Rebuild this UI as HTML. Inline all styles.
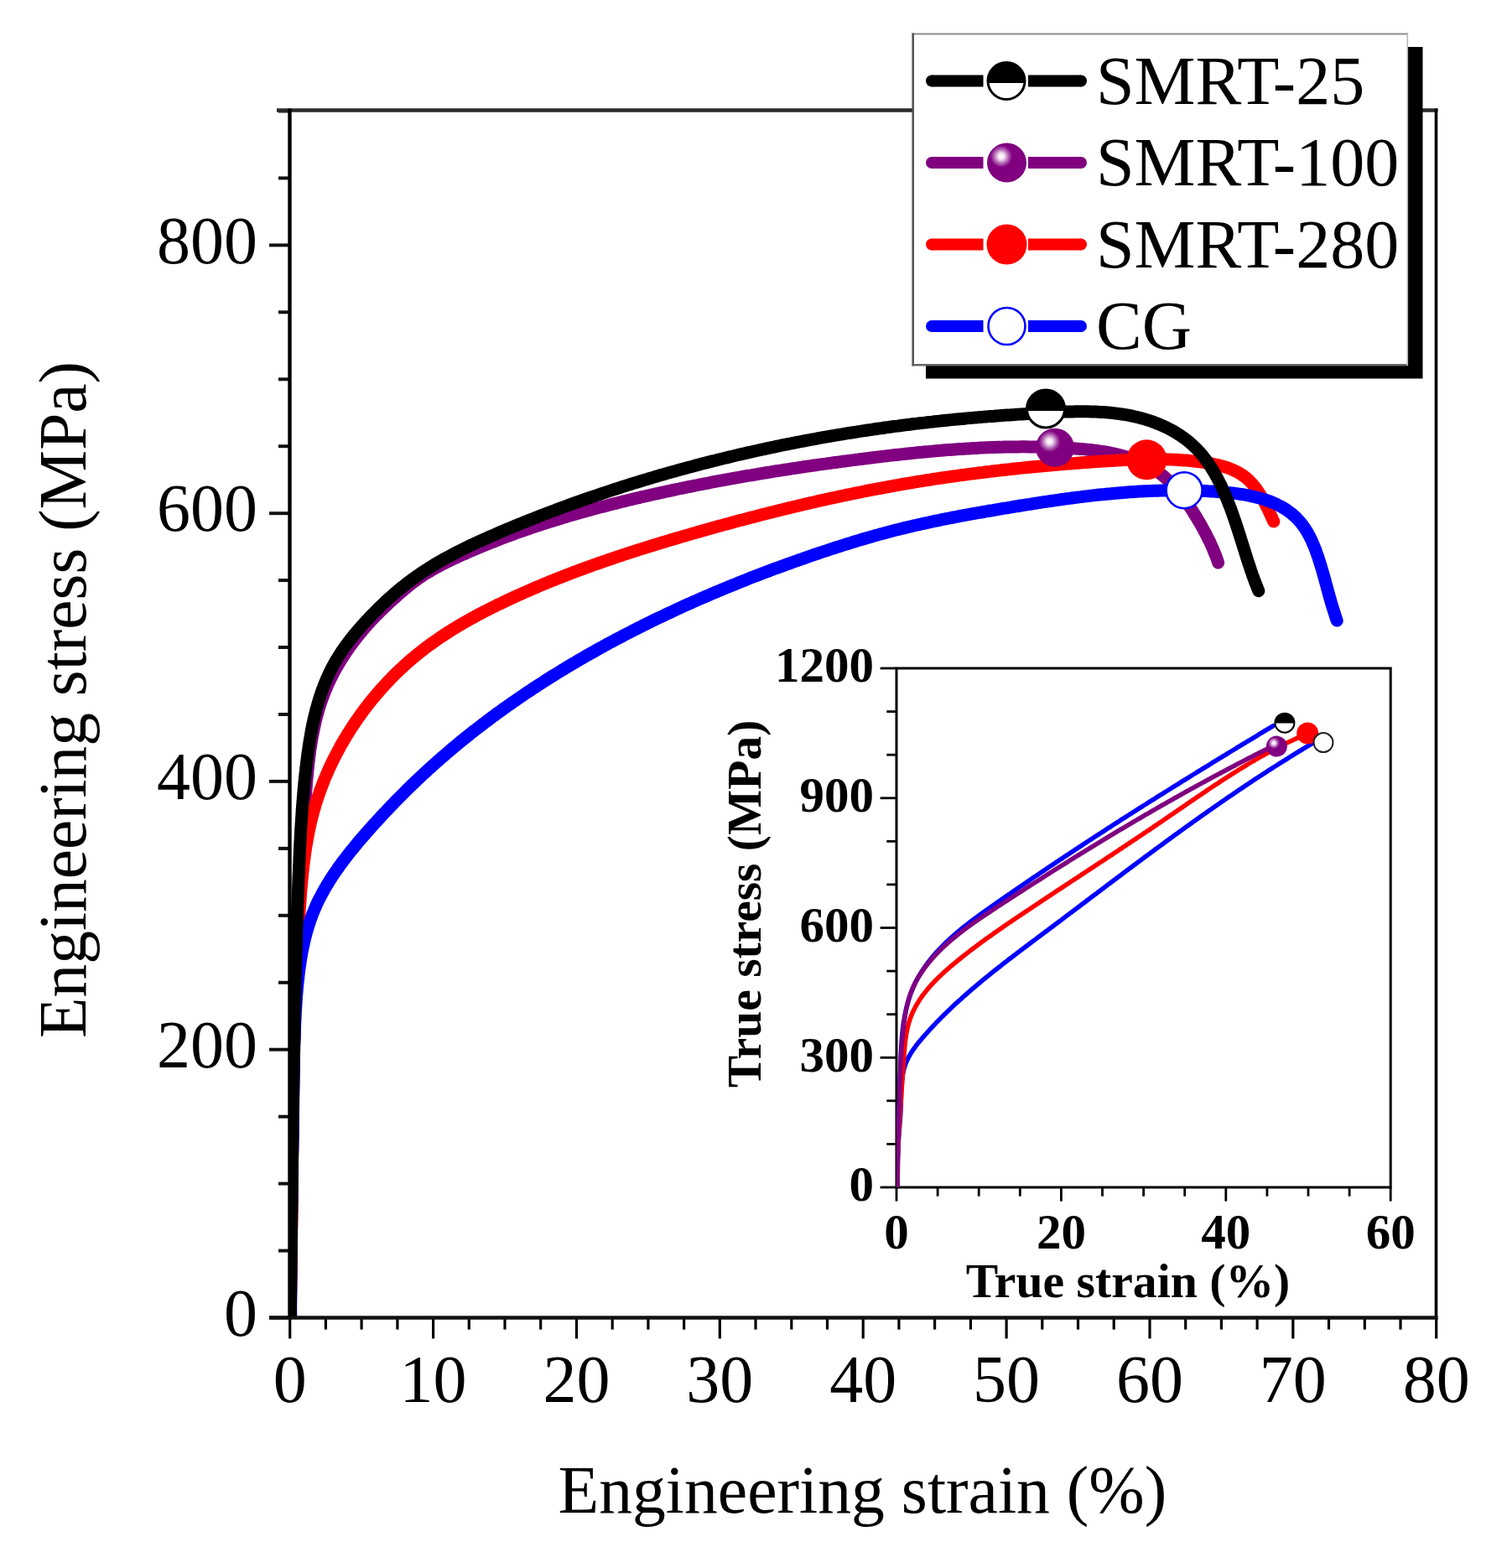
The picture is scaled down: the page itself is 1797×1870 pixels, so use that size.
<!DOCTYPE html><html><head><meta charset="utf-8"><title>Engineering stress-strain curves</title>
<style>html,body{margin:0;padding:0;background:#fff;}svg{display:block;}text{font-family:"Liberation Serif",serif;}</style></head><body>
<svg width="1797" height="1870" viewBox="0 0 1797 1870">
<rect x="0" y="0" width="1797" height="1870" fill="#fff"/>
<defs><radialGradient id="sph" cx="0.36" cy="0.34" r="0.62"><stop offset="0" stop-color="#fff"/><stop offset="0.12" stop-color="#f4e4f4"/><stop offset="0.30" stop-color="#b060b0"/><stop offset="0.45" stop-color="#800080"/><stop offset="1" stop-color="#800080"/></radialGradient></defs>
<text x="307" y="1592.7" font-size="80" text-anchor="end">0</text>
<text x="307" y="1272.9" font-size="80" text-anchor="end">200</text>
<text x="307" y="953.1" font-size="80" text-anchor="end">400</text>
<text x="307" y="633.4" font-size="80" text-anchor="end">600</text>
<text x="307" y="313.6" font-size="80" text-anchor="end">800</text>
<text x="345.7" y="1671.5" font-size="80" text-anchor="middle">0</text>
<text x="516.6" y="1671.5" font-size="80" text-anchor="middle">10</text>
<text x="687.5" y="1671.5" font-size="80" text-anchor="middle">20</text>
<text x="858.3" y="1671.5" font-size="80" text-anchor="middle">30</text>
<text x="1029.2" y="1671.5" font-size="80" text-anchor="middle">40</text>
<text x="1200.1" y="1671.5" font-size="80" text-anchor="middle">50</text>
<text x="1371.0" y="1671.5" font-size="80" text-anchor="middle">60</text>
<text x="1541.8" y="1671.5" font-size="80" text-anchor="middle">70</text>
<text x="1712.7" y="1671.5" font-size="80" text-anchor="middle">80</text>
<text x="1028.4" y="1803.8" font-size="79.7" text-anchor="middle">Engineering strain (%)</text>
<text transform="translate(102,834.5) rotate(-90)" x="0" y="0" font-size="79.4" text-anchor="middle">Engineering stress (MPa)</text>
<clipPath id="plotclip"><rect x="345.5" y="120" width="1372" height="1451.5"/></clipPath>
<g clip-path="url(#plotclip)">
<path d="M346.3,1570.8L346.3,1568.0 346.4,1565.2 346.4,1562.4 346.4,1559.6 346.5,1556.8 346.5,1554.0 346.6,1551.2 346.6,1548.4 346.6,1545.6 346.7,1542.7 346.7,1539.9 346.7,1537.1 346.8,1534.3 346.8,1531.5 346.8,1528.7 346.9,1525.9 346.9,1523.1 346.9,1520.3 347.0,1517.5 347.0,1514.6 347.0,1511.8 347.1,1509.0 347.1,1506.2 347.1,1503.4 347.1,1500.6 347.2,1497.8 347.2,1494.9 347.2,1492.1 347.3,1489.3 347.3,1486.5 347.3,1483.7 347.4,1480.9 347.4,1478.1 347.4,1475.2 347.5,1472.4 347.5,1469.6 347.5,1466.8 347.5,1464.0 347.6,1461.2 347.6,1458.3 347.6,1455.5 347.7,1452.7 347.7,1449.9 347.7,1447.1 347.8,1444.2 347.8,1441.4 347.8,1438.6 347.8,1435.8 347.9,1433.0 347.9,1430.1 347.9,1427.3 348.0,1424.5 348.0,1421.7 348.0,1418.9 348.1,1416.0 348.1,1413.2 348.1,1410.4 348.2,1407.6 348.2,1404.8 348.2,1401.9 348.3,1399.1 348.3,1396.3 348.3,1393.5 348.4,1390.7 348.4,1387.8 348.4,1385.0 348.5,1382.2 348.5,1379.4 348.5,1376.6 348.6,1373.7 348.6,1370.9 348.7,1368.1 348.7,1365.3 348.7,1362.4 348.8,1359.6 348.8,1356.8 348.8,1354.0 348.9,1351.2 348.9,1348.3 349.0,1345.5 349.0,1342.7 349.0,1339.9 349.1,1337.0 349.1,1334.2 349.2,1331.4 349.2,1328.6 349.3,1325.8 349.3,1322.9 349.3,1320.1 349.4,1317.3 349.4,1314.5 349.5,1311.6 349.5,1308.8 349.6,1306.0 349.6,1303.2 349.7,1300.4 349.7,1297.5 349.8,1294.7 349.8,1291.9 349.9,1289.1 349.9,1286.2 350.0,1283.4 350.0,1280.6 350.1,1277.8 350.2,1275.0 350.2,1272.1 350.3,1269.3 350.3,1266.5 350.4,1263.7 350.4,1260.9 350.5,1258.0 350.6,1255.2 350.6,1252.4 350.7,1249.6 350.7,1246.8 350.8,1243.9 350.9,1241.1 350.9,1238.3 351.0,1235.5 351.1,1232.7 351.1,1229.8 351.2,1227.0 351.3,1224.2 351.4,1221.4 351.4,1218.6 351.5,1215.7 351.6,1212.9 351.7,1210.1 351.7,1207.3 351.8,1204.5 351.9,1201.6 352.0,1198.8 352.0,1196.0 352.1,1193.2 352.2,1190.4 352.3,1187.6 352.4,1184.7 352.5,1181.9 352.5,1179.1 352.6,1176.3 352.7,1173.5 352.8,1170.7 352.9,1167.8 353.0,1165.0 353.1,1162.2 353.2,1159.4 353.3,1156.6 353.4,1153.8 353.5,1151.0 353.6,1148.1 353.7,1145.3 353.8,1142.5 353.9,1139.7 354.0,1136.9 354.1,1134.1 354.2,1131.3 354.3,1128.5 354.4,1125.6 354.5,1122.8 354.6,1120.0 354.7,1117.2 354.9,1114.4 355.0,1111.6 355.1,1108.8 355.2,1106.0 355.3,1103.2 355.5,1100.4 355.6,1097.5 355.7,1094.7 355.8,1091.9 356.0,1089.1 356.1,1086.3 356.2,1083.5 356.4,1080.7 356.5,1077.9 356.6,1075.1 356.8,1072.3 356.9,1069.5 357.0,1066.7 357.2,1063.9 357.3,1061.1 357.5,1058.3 357.6,1055.5 357.8,1052.7 357.9,1049.9 358.1,1047.1 358.2,1044.3 358.4,1041.5 358.5,1038.6 358.7,1035.8 358.8,1033.0 359.0,1030.2 359.1,1027.4 359.3,1024.6 359.5,1021.8 359.6,1019.0 359.8,1016.2 360.0,1013.4 360.2,1010.6 360.3,1007.8 360.5,1005.0 360.7,1002.2 360.9,999.3 361.0,996.5 361.2,993.7 361.4,990.9 361.6,988.1 361.8,985.3 362.0,982.4 362.2,979.6 362.4,976.8 362.6,974.0 362.8,971.1 363.0,968.3 363.2,965.5 363.4,962.7 363.6,959.8 363.8,957.0 364.0,954.2 364.2,951.3 364.4,948.5 364.6,945.6 364.8,942.8 365.1,940.0 365.3,937.1 365.5,934.3 365.8,931.4 366.0,928.6 366.3,925.7 366.6,922.9 366.8,920.1 367.1,917.2 367.4,914.4 367.7,911.6 368.0,908.7 368.4,905.9 368.7,903.1 369.1,900.3 369.4,897.5 369.8,894.6 370.2,891.8 370.7,889.0 371.1,886.3 371.6,883.5 372.0,880.7 372.5,877.9 373.1,875.1 373.6,872.4 374.2,869.6 374.7,866.9 375.4,864.1 376.0,861.4 376.6,858.7 377.3,856.0 378.0,853.3 378.8,850.6 379.5,847.9 380.3,845.2 381.1,842.6 382.0,839.9 382.8,837.3 383.8,834.7 384.7,832.0 385.7,829.4 386.7,826.8 387.7,824.3 388.8,821.7 389.8,819.1 391.0,816.6 392.1,814.1 393.3,811.6 394.5,809.1 395.8,806.6 397.0,804.1 398.3,801.6 399.6,799.2 401.0,796.7 402.4,794.3 403.8,791.9 405.2,789.5 406.7,787.1 408.1,784.8 409.6,782.4 411.2,780.1 412.7,777.7 414.3,775.4 415.9,773.1 417.5,770.8 419.2,768.6 420.9,766.3 422.6,764.0 424.3,761.8 426.0,759.6 427.8,757.4 429.6,755.2 431.4,753.0 433.2,750.9 435.1,748.7 436.9,746.6 438.8,744.5 440.7,742.4 442.6,740.3 444.6,738.2 446.5,736.2 448.5,734.1 450.5,732.1 452.5,730.1 454.6,728.1 456.6,726.1 458.7,724.1 460.7,722.2 462.8,720.2 464.9,718.3 467.0,716.4 469.1,714.5 471.3,712.6 473.4,710.7 475.5,708.8 477.6,706.9 479.8,705.1 481.9,703.2 484.1,701.4 486.3,699.6 488.5,697.8 490.7,696.1 492.9,694.4 495.2,692.7 497.4,691.0 499.7,689.4 502.0,687.9 504.4,686.3 506.7,684.8 509.1,683.3 511.5,681.9 513.9,680.5 516.3,679.1 518.8,677.7 521.2,676.3 523.7,675.0 526.1,673.7 528.6,672.4 531.1,671.2 533.6,669.9 536.2,668.7 538.7,667.5 541.2,666.3 543.8,665.1 546.3,664.0 548.9,662.8 551.4,661.6 554.0,660.5 556.5,659.4 559.1,658.2 561.7,657.1 564.3,656.0 566.8,654.9 569.4,653.8 572.0,652.7 574.6,651.7 577.2,650.6 579.8,649.5 582.4,648.5 585.0,647.4 587.6,646.4 590.2,645.4 592.9,644.3 595.5,643.3 598.1,642.3 600.7,641.3 603.4,640.3 606.0,639.3 608.6,638.4 611.3,637.4 613.9,636.4 616.5,635.5 619.2,634.5 621.9,633.6 624.5,632.7 627.2,631.7 629.8,630.8 632.5,629.9 635.2,629.0 637.8,628.1 640.5,627.2 643.2,626.3 645.8,625.5 648.5,624.6 651.2,623.7 653.9,622.9 656.6,622.0 659.3,621.2 662.0,620.3 664.7,619.5 667.4,618.7 670.1,617.9 672.8,617.0 675.5,616.2 678.2,615.4 680.9,614.6 683.6,613.9 686.3,613.1 689.0,612.3 691.7,611.5 694.4,610.8 697.2,610.0 699.9,609.2 702.6,608.5 705.3,607.7 708.0,607.0 710.8,606.3 713.5,605.5 716.2,604.8 719.0,604.1 721.7,603.4 724.4,602.7 727.2,602.0 729.9,601.3 732.7,600.6 735.4,599.9 738.1,599.2 740.9,598.5 743.6,597.9 746.4,597.2 749.1,596.5 751.9,595.9 754.6,595.2 757.4,594.6 760.1,593.9 762.9,593.3 765.6,592.6 768.4,592.0 771.1,591.4 773.9,590.7 776.6,590.1 779.4,589.5 782.1,588.9 784.9,588.3 787.7,587.7 790.4,587.1 793.2,586.5 795.9,585.9 798.7,585.3 801.5,584.7 804.2,584.1 807.0,583.5 809.7,583.0 812.5,582.4 815.3,581.8 818.0,581.2 820.8,580.7 823.6,580.1 826.3,579.6 829.1,579.0 831.8,578.5 834.6,577.9 837.4,577.4 840.1,576.8 842.9,576.3 845.7,575.8 848.4,575.2 851.2,574.7 854.0,574.2 856.8,573.7 859.5,573.2 862.3,572.7 865.1,572.1 867.8,571.6 870.6,571.1 873.4,570.6 876.1,570.1 878.9,569.6 881.7,569.2 884.5,568.7 887.2,568.2 890.0,567.7 892.8,567.2 895.6,566.8 898.3,566.3 901.1,565.8 903.9,565.4 906.7,564.9 909.5,564.4 912.2,564.0 915.0,563.5 917.8,563.1 920.6,562.6 923.3,562.2 926.1,561.7 928.9,561.3 931.7,560.9 934.5,560.4 937.3,560.0 940.0,559.6 942.8,559.1 945.6,558.7 948.4,558.3 951.2,557.9 954.0,557.5 956.7,557.0 959.5,556.6 962.3,556.2 965.1,555.8 967.9,555.4 970.7,555.0 973.5,554.6 976.2,554.2 979.0,553.8 981.8,553.4 984.6,553.1 987.4,552.7 990.2,552.3 993.0,551.9 995.8,551.5 998.6,551.2 1001.3,550.8 1004.1,550.4 1006.9,550.0 1009.7,549.7 1012.5,549.3 1015.3,548.9 1018.1,548.6 1020.9,548.2 1023.7,547.9 1026.5,547.5 1029.3,547.2 1032.1,546.8 1034.9,546.5 1037.7,546.1 1040.5,545.8 1043.3,545.4 1046.0,545.1 1048.8,544.8 1051.6,544.4 1054.4,544.1 1057.2,543.8 1060.0,543.4 1062.8,543.1 1065.6,542.8 1068.4,542.5 1071.2,542.2 1074.0,541.9 1076.8,541.6 1079.6,541.3 1082.4,541.0 1085.2,540.7 1088.1,540.4 1090.9,540.1 1093.7,539.8 1096.5,539.5 1099.3,539.3 1102.1,539.0 1104.9,538.7 1107.7,538.5 1110.5,538.2 1113.3,538.0 1116.1,537.7 1118.9,537.5 1121.7,537.3 1124.5,537.0 1127.3,536.8 1130.2,536.6 1133.0,536.4 1135.8,536.2 1138.6,536.0 1141.4,535.8 1144.2,535.6 1147.0,535.4 1149.8,535.2 1152.6,535.0 1155.5,534.9 1158.3,534.7 1161.1,534.5 1163.9,534.4 1166.7,534.2 1169.5,534.1 1172.4,534.0 1175.2,533.8 1178.0,533.7 1180.8,533.6 1183.6,533.5 1186.4,533.4 1189.3,533.3 1192.1,533.2 1194.9,533.2 1197.7,533.1 1200.6,533.0 1203.4,533.0 1206.2,532.9 1209.0,532.9 1211.8,532.9 1214.7,532.9 1217.5,532.8 1220.3,532.8 1223.2,532.8 1226.0,532.9 1228.8,532.9 1231.6,532.9 1234.5,532.9 1237.3,533.0 1240.1,533.0 1243.0,533.1 1245.8,533.2 1248.6,533.3 1251.4,533.3 1254.3,533.4 1257.1,533.5 1260.0,533.7 1262.8,533.8 1265.6,533.9 1268.5,534.1 1271.3,534.2 1274.1,534.4 1277.0,534.6 1279.8,534.8 1282.6,535.0 1285.5,535.2 1288.3,535.4 1291.1,535.6 1294.0,535.9 1296.8,536.2 1299.6,536.5 1302.4,536.8 1305.2,537.1 1308.0,537.5 1310.8,537.9 1313.6,538.3 1316.4,538.7 1319.1,539.2 1321.9,539.7 1324.6,540.2 1327.3,540.8 1330.0,541.4 1332.7,542.0 1335.4,542.7 1338.1,543.4 1340.7,544.1 1343.3,544.9 1346.0,545.7 1348.5,546.6 1351.1,547.5 1353.7,548.4 1356.2,549.4 1358.7,550.5 1361.2,551.6 1363.6,552.8 1366.1,554.0 1368.5,555.2 1370.8,556.5 1373.2,557.9 1375.5,559.3 1377.8,560.8 1380.1,562.3 1382.3,563.9 1384.5,565.6 1386.7,567.3 1388.8,569.1 1390.9,571.0 1393.0,572.9 1395.0,574.9 1397.1,576.9 1399.0,579.0 1401.0,581.1 1402.9,583.3 1404.8,585.5 1406.6,587.8 1408.4,590.1 1410.2,592.4 1412.0,594.8 1413.7,597.2 1415.4,599.6 1417.1,602.0 1418.7,604.5 1420.4,606.9 1422.0,609.4 1423.5,611.9 1425.1,614.4 1426.6,616.8 1428.1,619.3 1429.5,621.8 1431.0,624.2 1432.4,626.7 1433.7,629.1 1435.1,631.6 1436.4,634.0 1437.7,636.5 1439.0,638.9 1440.2,641.4 1441.4,643.8 1442.6,646.2 1443.8,648.7 1444.9,651.2 1446.0,653.6 1447.0,656.1 1448.0,658.6 1449.0,661.0 1450.0,663.5 1450.9,666.0 1451.8,668.5 1452.6,671.1" fill="none" stroke="#800080" stroke-width="15.0" stroke-linecap="round" stroke-linejoin="round"/>
<path d="M345.9,1571.0L345.9,1568.2 346.0,1565.5 346.1,1562.7 346.1,1559.9 346.2,1557.2 346.3,1554.4 346.3,1551.7 346.4,1548.9 346.5,1546.1 346.5,1543.4 346.6,1540.6 346.6,1537.9 346.7,1535.1 346.7,1532.4 346.8,1529.6 346.8,1526.8 346.9,1524.1 346.9,1521.3 347.0,1518.6 347.0,1515.8 347.1,1513.0 347.1,1510.3 347.2,1507.5 347.2,1504.8 347.3,1502.0 347.3,1499.3 347.4,1496.5 347.4,1493.7 347.4,1491.0 347.5,1488.2 347.5,1485.5 347.5,1482.7 347.6,1479.9 347.6,1477.2 347.6,1474.4 347.7,1471.7 347.7,1468.9 347.7,1466.1 347.8,1463.4 347.8,1460.6 347.8,1457.9 347.9,1455.1 347.9,1452.3 347.9,1449.6 348.0,1446.8 348.0,1444.1 348.0,1441.3 348.0,1438.5 348.1,1435.8 348.1,1433.0 348.1,1430.3 348.1,1427.5 348.2,1424.7 348.2,1422.0 348.2,1419.2 348.2,1416.5 348.3,1413.7 348.3,1410.9 348.3,1408.2 348.3,1405.4 348.4,1402.7 348.4,1399.9 348.4,1397.1 348.4,1394.4 348.5,1391.6 348.5,1388.9 348.5,1386.1 348.5,1383.3 348.6,1380.6 348.6,1377.8 348.6,1375.1 348.6,1372.3 348.7,1369.5 348.7,1366.8 348.7,1364.0 348.7,1361.3 348.8,1358.5 348.8,1355.7 348.8,1353.0 348.9,1350.2 348.9,1347.5 348.9,1344.7 348.9,1341.9 349.0,1339.2 349.0,1336.4 349.0,1333.7 349.1,1330.9 349.1,1328.1 349.1,1325.4 349.2,1322.6 349.2,1319.8 349.2,1317.1 349.3,1314.3 349.3,1311.6 349.3,1308.8 349.4,1306.0 349.4,1303.3 349.5,1300.5 349.5,1297.8 349.5,1295.0 349.6,1292.2 349.6,1289.5 349.7,1286.7 349.7,1284.0 349.8,1281.2 349.8,1278.5 349.8,1275.7 349.9,1272.9 349.9,1270.2 350.0,1267.4 350.1,1264.7 350.1,1261.9 350.2,1259.1 350.2,1256.4 350.3,1253.6 350.3,1250.9 350.4,1248.1 350.5,1245.3 350.5,1242.6 350.6,1239.8 350.7,1237.1 350.7,1234.3 350.8,1231.5 350.9,1228.8 350.9,1226.0 351.0,1223.3 351.1,1220.5 351.2,1217.7 351.2,1215.0 351.3,1212.2 351.4,1209.5 351.5,1206.7 351.6,1204.0 351.6,1201.2 351.7,1198.4 351.8,1195.7 351.9,1192.9 352.0,1190.2 352.1,1187.4 352.2,1184.6 352.3,1181.9 352.4,1179.1 352.5,1176.4 352.6,1173.6 352.7,1170.9 352.8,1168.1 352.9,1165.3 353.1,1162.6 353.2,1159.8 353.3,1157.1 353.4,1154.3 353.5,1151.6 353.7,1148.8 353.8,1146.0 353.9,1143.3 354.1,1140.5 354.2,1137.8 354.3,1135.0 354.5,1132.3 354.6,1129.5 354.7,1126.7 354.9,1124.0 355.0,1121.2 355.2,1118.5 355.3,1115.7 355.5,1113.0 355.7,1110.2 355.8,1107.4 356.0,1104.7 356.2,1101.9 356.3,1099.2 356.5,1096.4 356.7,1093.7 356.8,1090.9 357.0,1088.2 357.2,1085.4 357.4,1082.6 357.6,1079.9 357.8,1077.1 358.0,1074.4 358.2,1071.6 358.4,1068.9 358.6,1066.1 358.8,1063.4 359.0,1060.6 359.3,1057.9 359.5,1055.1 359.7,1052.4 360.0,1049.6 360.3,1046.9 360.5,1044.1 360.8,1041.4 361.1,1038.7 361.4,1035.9 361.7,1033.2 362.0,1030.5 362.4,1027.7 362.7,1025.0 363.1,1022.3 363.4,1019.5 363.8,1016.8 364.2,1014.1 364.6,1011.4 365.1,1008.7 365.5,1006.0 366.0,1003.3 366.5,1000.6 367.0,997.9 367.5,995.2 368.0,992.5 368.5,989.8 369.1,987.1 369.7,984.4 370.3,981.7 370.9,979.1 371.6,976.4 372.3,973.7 372.9,971.1 373.7,968.4 374.4,965.8 375.2,963.1 375.9,960.5 376.7,957.8 377.6,955.2 378.4,952.6 379.3,950.0 380.2,947.4 381.1,944.8 382.0,942.2 383.0,939.6 384.0,937.0 385.0,934.4 386.0,931.8 387.0,929.3 388.1,926.7 389.2,924.2 390.3,921.6 391.4,919.1 392.5,916.6 393.7,914.0 394.9,911.5 396.1,909.0 397.3,906.5 398.5,904.0 399.8,901.6 401.1,899.1 402.4,896.6 403.7,894.2 405.0,891.8 406.3,889.3 407.7,886.9 409.1,884.5 410.5,882.1 411.9,879.7 413.3,877.4 414.8,875.0 416.3,872.6 417.7,870.3 419.2,868.0 420.8,865.6 422.3,863.3 423.8,861.0 425.4,858.8 427.0,856.5 428.6,854.2 430.2,852.0 431.8,849.8 433.4,847.5 435.1,845.3 436.8,843.1 438.4,841.0 440.1,838.8 441.9,836.6 443.6,834.5 445.3,832.4 447.1,830.3 448.9,828.2 450.7,826.1 452.5,824.0 454.3,821.9 456.1,819.9 457.9,817.9 459.8,815.8 461.7,813.8 463.6,811.9 465.5,809.9 467.4,807.9 469.3,806.0 471.3,804.0 473.2,802.1 475.2,800.2 477.2,798.3 479.2,796.5 481.2,794.6 483.2,792.8 485.3,790.9 487.3,789.1 489.4,787.3 491.5,785.5 493.6,783.8 495.7,782.0 497.8,780.3 499.9,778.6 502.1,776.9 504.3,775.2 506.4,773.5 508.6,771.8 510.8,770.2 513.0,768.6 515.3,767.0 517.5,765.4 519.8,763.8 522.0,762.2 524.3,760.7 526.6,759.1 528.9,757.6 531.2,756.1 533.5,754.6 535.8,753.1 538.1,751.7 540.5,750.2 542.8,748.8 545.2,747.3 547.6,745.9 550.0,744.5 552.3,743.1 554.7,741.8 557.1,740.4 559.6,739.0 562.0,737.7 564.4,736.4 566.8,735.0 569.3,733.7 571.7,732.4 574.2,731.1 576.6,729.8 579.1,728.6 581.6,727.3 584.0,726.0 586.5,724.8 589.0,723.6 591.5,722.3 594.0,721.1 596.5,719.9 599.0,718.7 601.5,717.5 604.0,716.3 606.5,715.2 609.0,714.0 611.5,712.8 614.0,711.7 616.5,710.5 619.0,709.4 621.6,708.3 624.1,707.1 626.6,706.0 629.1,704.9 631.7,703.8 634.2,702.7 636.7,701.6 639.3,700.5 641.8,699.4 644.3,698.4 646.9,697.3 649.4,696.2 652.0,695.2 654.5,694.1 657.1,693.1 659.6,692.1 662.2,691.0 664.8,690.0 667.3,689.0 669.9,688.0 672.5,687.0 675.0,686.0 677.6,685.0 680.2,684.0 682.7,683.0 685.3,682.0 687.9,681.1 690.5,680.1 693.1,679.2 695.6,678.2 698.2,677.3 700.8,676.3 703.4,675.4 706.0,674.4 708.6,673.5 711.2,672.6 713.8,671.7 716.4,670.8 719.0,669.9 721.6,669.0 724.2,668.1 726.8,667.2 729.4,666.3 732.0,665.4 734.6,664.5 737.2,663.6 739.8,662.8 742.4,661.9 745.1,661.0 747.7,660.2 750.3,659.3 752.9,658.5 755.5,657.6 758.2,656.8 760.8,655.9 763.4,655.1 766.0,654.3 768.7,653.5 771.3,652.6 773.9,651.8 776.5,651.0 779.2,650.2 781.8,649.4 784.4,648.6 787.1,647.8 789.7,647.0 792.4,646.2 795.0,645.4 797.6,644.6 800.3,643.8 802.9,643.0 805.6,642.2 808.2,641.4 810.9,640.7 813.5,639.9 816.2,639.1 818.8,638.4 821.5,637.6 824.1,636.8 826.8,636.1 829.4,635.3 832.1,634.5 834.7,633.8 837.4,633.0 840.0,632.3 842.7,631.5 845.4,630.8 848.0,630.1 850.7,629.3 853.3,628.6 856.0,627.8 858.7,627.1 861.3,626.4 864.0,625.6 866.6,624.9 869.3,624.2 872.0,623.5 874.6,622.7 877.3,622.0 880.0,621.3 882.6,620.6 885.3,619.9 888.0,619.2 890.7,618.5 893.3,617.8 896.0,617.1 898.7,616.4 901.4,615.7 904.0,615.0 906.7,614.3 909.4,613.6 912.1,612.9 914.7,612.3 917.4,611.6 920.1,610.9 922.8,610.2 925.5,609.6 928.1,608.9 930.8,608.2 933.5,607.6 936.2,606.9 938.9,606.3 941.5,605.6 944.2,605.0 946.9,604.3 949.6,603.7 952.3,603.0 955.0,602.4 957.7,601.8 960.4,601.1 963.1,600.5 965.7,599.9 968.4,599.3 971.1,598.7 973.8,598.0 976.5,597.4 979.2,596.8 981.9,596.2 984.6,595.6 987.3,595.0 990.0,594.4 992.7,593.8 995.4,593.3 998.1,592.7 1000.8,592.1 1003.5,591.5 1006.2,591.0 1008.9,590.4 1011.6,589.8 1014.3,589.3 1017.0,588.7 1019.7,588.1 1022.4,587.6 1025.1,587.1 1027.8,586.5 1030.5,586.0 1033.2,585.4 1035.9,584.9 1038.6,584.4 1041.3,583.9 1044.0,583.3 1046.8,582.8 1049.5,582.3 1052.2,581.8 1054.9,581.3 1057.6,580.8 1060.3,580.3 1063.0,579.8 1065.7,579.3 1068.4,578.8 1071.2,578.4 1073.9,577.9 1076.6,577.4 1079.3,576.9 1082.0,576.5 1084.7,576.0 1087.4,575.6 1090.2,575.1 1092.9,574.7 1095.6,574.2 1098.3,573.8 1101.0,573.4 1103.8,572.9 1106.5,572.5 1109.2,572.1 1111.9,571.6 1114.6,571.2 1117.4,570.8 1120.1,570.4 1122.8,570.0 1125.5,569.6 1128.3,569.2 1131.0,568.8 1133.7,568.4 1136.4,568.0 1139.2,567.7 1141.9,567.3 1144.6,566.9 1147.3,566.5 1150.1,566.2 1152.8,565.8 1155.5,565.4 1158.3,565.1 1161.0,564.7 1163.7,564.4 1166.5,564.0 1169.2,563.7 1171.9,563.4 1174.7,563.0 1177.4,562.7 1180.1,562.4 1182.9,562.0 1185.6,561.7 1188.3,561.4 1191.1,561.1 1193.8,560.8 1196.5,560.5 1199.3,560.2 1202.0,559.9 1204.8,559.6 1207.5,559.3 1210.3,559.0 1213.0,558.7 1215.7,558.4 1218.5,558.1 1221.2,557.8 1224.0,557.6 1226.7,557.3 1229.5,557.0 1232.2,556.7 1235.0,556.5 1237.7,556.2 1240.5,556.0 1243.2,555.7 1246.0,555.5 1248.7,555.2 1251.5,555.0 1254.2,554.7 1257.0,554.5 1259.7,554.2 1262.5,554.0 1265.2,553.8 1268.0,553.5 1270.7,553.3 1273.5,553.1 1276.2,552.9 1279.0,552.7 1281.8,552.4 1284.5,552.2 1287.3,552.0 1290.0,551.8 1292.8,551.6 1295.6,551.4 1298.3,551.2 1301.1,551.0 1303.8,550.8 1306.6,550.6 1309.4,550.5 1312.1,550.3 1314.9,550.1 1317.7,549.9 1320.4,549.7 1323.2,549.6 1326.0,549.4 1328.7,549.2 1331.5,549.1 1334.3,548.9 1337.0,548.8 1339.8,548.6 1342.6,548.5 1345.4,548.4 1348.1,548.3 1350.9,548.1 1353.7,548.0 1356.4,548.0 1359.2,547.9 1362.0,547.8 1364.7,547.7 1367.5,547.7 1370.3,547.7 1373.0,547.6 1375.8,547.6 1378.5,547.6 1381.3,547.6 1384.1,547.7 1386.8,547.7 1389.6,547.8 1392.3,547.9 1395.1,547.9 1397.8,548.1 1400.6,548.2 1403.3,548.3 1406.1,548.5 1408.8,548.7 1411.6,548.9 1414.3,549.1 1417.1,549.3 1419.8,549.6 1422.5,549.9 1425.3,550.2 1428.0,550.5 1430.7,550.8 1433.4,551.2 1436.2,551.6 1438.9,552.0 1441.6,552.5 1444.3,552.9 1447.0,553.5 1449.6,554.0 1452.3,554.6 1454.9,555.3 1457.5,556.0 1460.1,556.7 1462.6,557.5 1465.2,558.4 1467.6,559.4 1470.1,560.4 1472.5,561.5 1474.8,562.7 1477.1,563.9 1479.4,565.2 1481.6,566.7 1483.7,568.2 1485.8,569.8 1487.8,571.5 1489.7,573.3 1491.6,575.2 1493.5,577.3 1495.2,579.4 1496.9,581.5 1498.6,583.8 1500.2,586.1 1501.7,588.5 1503.3,590.9 1504.7,593.4 1506.2,595.9 1507.5,598.5 1508.9,601.0 1510.2,603.7 1511.5,606.3 1512.8,608.9 1514.0,611.5 1515.2,614.2 1516.4,616.8 1517.6,619.4 1518.8,621.9" fill="none" stroke="#ff0000" stroke-width="15.0" stroke-linecap="round" stroke-linejoin="round"/>
<path d="M346.8,1570.9L346.8,1568.1 346.7,1565.3 346.7,1562.5 346.7,1559.7 346.7,1556.9 346.7,1554.1 346.7,1551.3 346.7,1548.5 346.7,1545.7 346.7,1542.9 346.7,1540.1 346.7,1537.3 346.7,1534.5 346.7,1531.7 346.8,1528.9 346.8,1526.1 346.8,1523.3 346.8,1520.5 346.8,1517.7 346.8,1514.9 346.8,1512.1 346.9,1509.3 346.9,1506.5 346.9,1503.7 346.9,1500.9 347.0,1498.1 347.0,1495.3 347.0,1492.5 347.0,1489.7 347.1,1486.8 347.1,1484.0 347.1,1481.2 347.2,1478.4 347.2,1475.6 347.2,1472.8 347.3,1470.0 347.3,1467.2 347.3,1464.4 347.4,1461.6 347.4,1458.8 347.5,1456.0 347.5,1453.1 347.5,1450.3 347.6,1447.5 347.6,1444.7 347.7,1441.9 347.7,1439.1 347.7,1436.3 347.8,1433.5 347.8,1430.7 347.9,1427.9 347.9,1425.1 348.0,1422.2 348.0,1419.4 348.1,1416.6 348.1,1413.8 348.1,1411.0 348.2,1408.2 348.2,1405.4 348.3,1402.6 348.3,1399.8 348.4,1397.0 348.4,1394.2 348.5,1391.3 348.5,1388.5 348.6,1385.7 348.6,1382.9 348.7,1380.1 348.7,1377.3 348.8,1374.5 348.8,1371.7 348.8,1368.9 348.9,1366.1 348.9,1363.3 349.0,1360.5 349.0,1357.7 349.1,1354.9 349.1,1352.0 349.2,1349.2 349.2,1346.4 349.2,1343.6 349.3,1340.8 349.3,1338.0 349.4,1335.2 349.4,1332.4 349.4,1329.6 349.5,1326.8 349.5,1324.0 349.6,1321.2 349.6,1318.4 349.6,1315.6 349.7,1312.8 349.7,1310.0 349.7,1307.2 349.8,1304.4 349.8,1301.6 349.8,1298.8 349.9,1296.0 349.9,1293.2 349.9,1290.4 350.0,1287.6 350.0,1284.8 350.0,1282.0 350.1,1279.2 350.1,1276.4 350.2,1273.6 350.2,1270.8 350.3,1268.0 350.3,1265.2 350.4,1262.4 350.4,1259.6 350.5,1256.8 350.6,1254.0 350.6,1251.2 350.7,1248.4 350.8,1245.6 350.9,1242.8 351.0,1240.0 351.1,1237.2 351.2,1234.4 351.3,1231.6 351.4,1228.8 351.5,1226.0 351.6,1223.2 351.7,1220.4 351.9,1217.6 352.0,1214.8 352.1,1212.0 352.3,1209.1 352.4,1206.3 352.6,1203.5 352.8,1200.7 353.0,1197.9 353.1,1195.1 353.3,1192.3 353.5,1189.5 353.7,1186.6 354.0,1183.8 354.2,1181.0 354.4,1178.2 354.7,1175.4 355.0,1172.6 355.3,1169.8 355.6,1166.9 355.9,1164.1 356.2,1161.3 356.5,1158.5 356.9,1155.7 357.3,1153.0 357.7,1150.2 358.1,1147.4 358.5,1144.6 359.0,1141.8 359.5,1139.1 359.9,1136.3 360.5,1133.6 361.0,1130.8 361.6,1128.1 362.2,1125.4 362.8,1122.6 363.4,1119.9 364.1,1117.2 364.8,1114.5 365.5,1111.9 366.3,1109.2 367.1,1106.5 367.9,1103.9 368.7,1101.2 369.6,1098.6 370.5,1096.0 371.5,1093.4 372.4,1090.8 373.5,1088.2 374.5,1085.7 375.6,1083.1 376.7,1080.6 377.8,1078.1 379.0,1075.6 380.2,1073.1 381.5,1070.6 382.8,1068.1 384.1,1065.7 385.4,1063.2 386.8,1060.8 388.1,1058.4 389.6,1056.0 391.0,1053.6 392.5,1051.2 394.0,1048.8 395.5,1046.5 397.0,1044.1 398.6,1041.8 400.2,1039.5 401.8,1037.2 403.4,1034.9 405.0,1032.6 406.7,1030.3 408.4,1028.0 410.1,1025.7 411.8,1023.5 413.5,1021.2 415.3,1019.0 417.0,1016.8 418.8,1014.6 420.6,1012.4 422.4,1010.2 424.2,1008.0 426.0,1005.8 427.8,1003.6 429.7,1001.4 431.5,999.3 433.4,997.1 435.3,995.0 437.1,992.9 439.0,990.7 440.9,988.6 442.8,986.5 444.7,984.4 446.6,982.3 448.5,980.2 450.4,978.1 452.3,976.1 454.2,974.0 456.1,971.9 458.0,969.9 460.0,967.8 461.9,965.8 463.8,963.7 465.8,961.7 467.7,959.7 469.7,957.7 471.6,955.7 473.6,953.6 475.5,951.7 477.5,949.7 479.5,947.7 481.5,945.7 483.5,943.7 485.4,941.8 487.4,939.8 489.4,937.9 491.4,935.9 493.5,934.0 495.5,932.0 497.5,930.1 499.5,928.2 501.6,926.3 503.6,924.4 505.6,922.5 507.7,920.6 509.7,918.7 511.8,916.8 513.9,915.0 515.9,913.1 518.0,911.2 520.1,909.4 522.2,907.5 524.3,905.7 526.4,903.8 528.5,902.0 530.6,900.2 532.7,898.4 534.8,896.6 536.9,894.7 539.1,892.9 541.2,891.2 543.4,889.4 545.5,887.6 547.7,885.8 549.8,884.0 552.0,882.3 554.2,880.5 556.4,878.8 558.5,877.0 560.7,875.3 562.9,873.5 565.1,871.8 567.3,870.1 569.5,868.4 571.8,866.7 574.0,865.0 576.2,863.3 578.4,861.6 580.7,859.9 582.9,858.2 585.2,856.5 587.4,854.8 589.7,853.2 591.9,851.5 594.2,849.9 596.5,848.2 598.7,846.6 601.0,844.9 603.3,843.3 605.6,841.7 607.9,840.1 610.2,838.5 612.5,836.9 614.8,835.3 617.1,833.7 619.4,832.1 621.8,830.5 624.1,828.9 626.4,827.3 628.7,825.8 631.1,824.2 633.4,822.7 635.8,821.1 638.1,819.6 640.5,818.0 642.8,816.5 645.2,815.0 647.6,813.5 649.9,811.9 652.3,810.4 654.7,808.9 657.0,807.4 659.4,805.9 661.8,804.5 664.2,803.0 666.6,801.5 669.0,800.0 671.4,798.6 673.8,797.1 676.2,795.7 678.6,794.2 681.0,792.8 683.5,791.3 685.9,789.9 688.3,788.5 690.7,787.1 693.2,785.6 695.6,784.2 698.0,782.8 700.5,781.4 702.9,780.0 705.4,778.6 707.8,777.3 710.3,775.9 712.7,774.5 715.2,773.2 717.7,771.8 720.1,770.4 722.6,769.1 725.0,767.7 727.5,766.4 730.0,765.1 732.5,763.7 734.9,762.4 737.4,761.1 739.9,759.8 742.4,758.5 744.9,757.2 747.4,755.9 749.9,754.6 752.4,753.3 754.9,752.0 757.4,750.8 759.9,749.5 762.4,748.2 764.9,747.0 767.4,745.7 769.9,744.5 772.4,743.2 774.9,742.0 777.4,740.8 780.0,739.5 782.5,738.3 785.0,737.1 787.5,735.9 790.1,734.7 792.6,733.5 795.1,732.3 797.7,731.1 800.2,729.9 802.8,728.7 805.3,727.5 807.8,726.3 810.4,725.2 812.9,724.0 815.5,722.8 818.0,721.7 820.6,720.5 823.2,719.4 825.7,718.2 828.3,717.1 830.8,716.0 833.4,714.8 836.0,713.7 838.5,712.6 841.1,711.5 843.7,710.4 846.3,709.3 848.8,708.2 851.4,707.1 854.0,706.0 856.6,704.9 859.2,703.8 861.7,702.7 864.3,701.7 866.9,700.6 869.5,699.5 872.1,698.5 874.7,697.4 877.3,696.4 879.9,695.3 882.5,694.3 885.1,693.2 887.7,692.2 890.3,691.2 892.9,690.1 895.5,689.1 898.1,688.1 900.7,687.1 903.4,686.1 906.0,685.1 908.6,684.1 911.2,683.1 913.8,682.1 916.5,681.1 919.1,680.1 921.7,679.1 924.3,678.1 927.0,677.2 929.6,676.2 932.2,675.2 934.8,674.3 937.5,673.3 940.1,672.4 942.7,671.4 945.4,670.5 948.0,669.5 950.7,668.6 953.3,667.7 956.0,666.7 958.6,665.8 961.2,664.9 963.9,664.0 966.5,663.0 969.2,662.1 971.8,661.2 974.5,660.3 977.1,659.4 979.8,658.5 982.5,657.6 985.1,656.8 987.8,655.9 990.4,655.0 993.1,654.1 995.8,653.3 998.4,652.4 1001.1,651.6 1003.8,650.7 1006.4,649.9 1009.1,649.0 1011.8,648.2 1014.5,647.4 1017.1,646.5 1019.8,645.7 1022.5,644.9 1025.2,644.1 1027.9,643.3 1030.6,642.5 1033.3,641.7 1035.9,640.9 1038.6,640.2 1041.3,639.4 1044.0,638.6 1046.7,637.9 1049.4,637.1 1052.1,636.4 1054.8,635.7 1057.5,634.9 1060.2,634.2 1063.0,633.5 1065.7,632.8 1068.4,632.1 1071.1,631.4 1073.8,630.7 1076.5,630.1 1079.3,629.4 1082.0,628.7 1084.7,628.1 1087.4,627.5 1090.2,626.8 1092.9,626.2 1095.6,625.6 1098.4,625.0 1101.1,624.4 1103.9,623.8 1106.6,623.2 1109.3,622.6 1112.1,622.0 1114.8,621.4 1117.6,620.8 1120.3,620.3 1123.1,619.7 1125.8,619.2 1128.6,618.6 1131.3,618.1 1134.1,617.5 1136.9,617.0 1139.6,616.5 1142.4,616.0 1145.1,615.4 1147.9,614.9 1150.6,614.4 1153.4,613.9 1156.2,613.4 1158.9,612.9 1161.7,612.4 1164.5,611.9 1167.2,611.4 1170.0,611.0 1172.8,610.5 1175.5,610.0 1178.3,609.5 1181.1,609.0 1183.8,608.6 1186.6,608.1 1189.4,607.6 1192.1,607.2 1194.9,606.7 1197.6,606.2 1200.4,605.8 1203.2,605.3 1205.9,604.9 1208.7,604.4 1211.5,603.9 1214.2,603.5 1217.0,603.0 1219.8,602.6 1222.5,602.2 1225.3,601.7 1228.1,601.3 1230.8,600.8 1233.6,600.4 1236.4,600.0 1239.1,599.5 1241.9,599.1 1244.7,598.7 1247.4,598.3 1250.2,597.9 1253.0,597.5 1255.7,597.1 1258.5,596.7 1261.3,596.3 1264.0,595.9 1266.8,595.5 1269.6,595.1 1272.4,594.7 1275.1,594.4 1277.9,594.0 1280.7,593.6 1283.5,593.3 1286.2,592.9 1289.0,592.6 1291.8,592.2 1294.6,591.9 1297.3,591.6 1300.1,591.3 1302.9,590.9 1305.7,590.6 1308.4,590.3 1311.2,590.0 1314.0,589.7 1316.8,589.5 1319.6,589.2 1322.4,588.9 1325.1,588.7 1327.9,588.4 1330.7,588.2 1333.5,587.9 1336.3,587.7 1339.1,587.5 1341.9,587.3 1344.7,587.0 1347.5,586.8 1350.3,586.7 1353.1,586.5 1355.9,586.3 1358.7,586.1 1361.5,586.0 1364.3,585.8 1367.1,585.7 1369.9,585.6 1372.7,585.5 1375.5,585.3 1378.3,585.2 1381.1,585.2 1383.9,585.1 1386.7,585.0 1389.5,584.9 1392.4,584.9 1395.2,584.9 1398.0,584.8 1400.8,584.8 1403.7,584.8 1406.5,584.8 1409.3,584.8 1412.1,584.9 1415.0,584.9 1417.8,584.9 1420.6,585.0 1423.5,585.1 1426.3,585.2 1429.2,585.3 1432.0,585.4 1434.8,585.5 1437.7,585.6 1440.5,585.8 1443.4,585.9 1446.2,586.1 1449.1,586.3 1452.0,586.5 1454.8,586.7 1457.7,586.9 1460.5,587.2 1463.4,587.4 1466.2,587.7 1469.1,588.0 1471.9,588.3 1474.7,588.7 1477.6,589.1 1480.4,589.5 1483.1,589.9 1485.9,590.4 1488.7,590.9 1491.4,591.5 1494.1,592.1 1496.8,592.7 1499.5,593.4 1502.2,594.1 1504.8,594.8 1507.4,595.6 1510.0,596.5 1512.5,597.3 1515.0,598.3 1517.5,599.3 1519.9,600.3 1522.3,601.4 1524.7,602.6 1527.0,603.8 1529.3,605.1 1531.6,606.5 1533.8,607.9 1535.9,609.4 1538.0,610.9 1540.1,612.5 1542.1,614.2 1544.1,616.0 1546.0,617.8 1547.8,619.7 1549.6,621.7 1551.4,623.8 1553.1,625.9 1554.7,628.2 1556.3,630.5 1557.8,632.9 1559.2,635.3 1560.6,637.8 1562.0,640.4 1563.3,643.1 1564.5,645.7 1565.7,648.5 1566.9,651.2 1568.0,654.0 1569.1,656.8 1570.1,659.7 1571.1,662.5 1572.1,665.4 1573.0,668.3 1573.9,671.1 1574.8,674.0 1575.7,676.9 1576.5,679.7 1577.3,682.5 1578.1,685.3 1578.9,688.1 1579.7,690.8 1580.4,693.5 1581.1,696.2 1581.9,698.8 1582.6,701.5 1583.3,704.1 1584.0,706.7 1584.7,709.3 1585.4,711.9 1586.2,714.4 1586.9,717.0 1587.6,719.6 1588.4,722.1 1589.2,724.7 1590.0,727.2 1590.8,729.8 1591.6,732.3 1592.4,734.9 1593.3,737.5 1594.2,740.1" fill="none" stroke="#0000ff" stroke-width="15.0" stroke-linecap="round" stroke-linejoin="round"/>
<path d="M346.3,1571.0L346.3,1568.0 346.4,1565.0 346.4,1562.0 346.4,1559.0 346.5,1556.0 346.5,1553.0 346.5,1550.0 346.6,1547.1 346.6,1544.1 346.7,1541.1 346.7,1538.1 346.7,1535.1 346.8,1532.1 346.8,1529.1 346.8,1526.1 346.9,1523.1 346.9,1520.1 347.0,1517.1 347.0,1514.2 347.0,1511.2 347.1,1508.2 347.1,1505.2 347.1,1502.2 347.2,1499.2 347.2,1496.2 347.2,1493.2 347.3,1490.2 347.3,1487.2 347.3,1484.2 347.4,1481.2 347.4,1478.3 347.4,1475.3 347.5,1472.3 347.5,1469.3 347.5,1466.3 347.6,1463.3 347.6,1460.3 347.6,1457.3 347.7,1454.3 347.7,1451.3 347.7,1448.3 347.8,1445.3 347.8,1442.3 347.8,1439.4 347.9,1436.4 347.9,1433.4 347.9,1430.4 348.0,1427.4 348.0,1424.4 348.0,1421.4 348.1,1418.4 348.1,1415.4 348.2,1412.4 348.2,1409.4 348.2,1406.4 348.3,1403.4 348.3,1400.5 348.3,1397.5 348.4,1394.5 348.4,1391.5 348.4,1388.5 348.5,1385.5 348.5,1382.5 348.5,1379.5 348.6,1376.5 348.6,1373.5 348.7,1370.5 348.7,1367.5 348.7,1364.5 348.8,1361.6 348.8,1358.6 348.8,1355.6 348.9,1352.6 348.9,1349.6 349.0,1346.6 349.0,1343.6 349.0,1340.6 349.1,1337.6 349.1,1334.6 349.2,1331.6 349.2,1328.6 349.2,1325.6 349.3,1322.6 349.3,1319.7 349.4,1316.7 349.4,1313.7 349.5,1310.7 349.5,1307.7 349.5,1304.7 349.6,1301.7 349.6,1298.7 349.7,1295.7 349.7,1292.7 349.8,1289.7 349.8,1286.7 349.9,1283.7 349.9,1280.8 350.0,1277.8 350.0,1274.8 350.1,1271.8 350.1,1268.8 350.2,1265.8 350.2,1262.8 350.3,1259.8 350.3,1256.8 350.4,1253.8 350.4,1250.8 350.5,1247.8 350.5,1244.8 350.6,1241.9 350.7,1238.9 350.7,1235.9 350.8,1232.9 350.8,1229.9 350.9,1226.9 350.9,1223.9 351.0,1220.9 351.1,1217.9 351.1,1214.9 351.2,1211.9 351.3,1208.9 351.3,1206.0 351.4,1203.0 351.5,1200.0 351.5,1197.0 351.6,1194.0 351.7,1191.0 351.7,1188.0 351.8,1185.0 351.9,1182.0 351.9,1179.0 352.0,1176.0 352.1,1173.0 352.2,1170.1 352.2,1167.1 352.3,1164.1 352.4,1161.1 352.5,1158.1 352.5,1155.1 352.6,1152.1 352.7,1149.1 352.8,1146.1 352.9,1143.1 352.9,1140.1 353.0,1137.2 353.1,1134.2 353.2,1131.2 353.3,1128.2 353.4,1125.2 353.5,1122.2 353.5,1119.2 353.6,1116.2 353.7,1113.2 353.8,1110.2 353.9,1107.3 354.0,1104.3 354.1,1101.3 354.2,1098.3 354.3,1095.3 354.4,1092.3 354.5,1089.3 354.6,1086.3 354.7,1083.3 354.8,1080.4 354.9,1077.4 355.0,1074.4 355.1,1071.4 355.2,1068.4 355.3,1065.4 355.5,1062.4 355.6,1059.4 355.7,1056.4 355.8,1053.5 355.9,1050.5 356.0,1047.5 356.1,1044.5 356.3,1041.5 356.4,1038.5 356.5,1035.5 356.6,1032.5 356.8,1029.6 356.9,1026.6 357.0,1023.6 357.1,1020.6 357.3,1017.6 357.4,1014.6 357.6,1011.6 357.7,1008.6 357.8,1005.7 358.0,1002.7 358.2,999.7 358.3,996.7 358.5,993.7 358.6,990.7 358.8,987.7 359.0,984.7 359.2,981.8 359.4,978.8 359.6,975.8 359.8,972.8 360.0,969.8 360.2,966.8 360.4,963.8 360.6,960.9 360.8,957.9 361.1,954.9 361.3,951.9 361.6,948.9 361.8,945.9 362.1,942.9 362.3,940.0 362.6,937.0 362.9,934.0 363.2,931.0 363.5,928.0 363.8,925.0 364.1,922.0 364.5,919.1 364.8,916.1 365.2,913.1 365.5,910.1 365.9,907.1 366.3,904.1 366.6,901.1 367.0,898.2 367.5,895.2 367.9,892.2 368.3,889.2 368.8,886.3 369.3,883.3 369.8,880.3 370.3,877.4 370.8,874.4 371.3,871.5 371.9,868.5 372.5,865.6 373.1,862.7 373.7,859.8 374.4,856.8 375.1,853.9 375.8,851.1 376.5,848.2 377.3,845.3 378.1,842.4 378.9,839.6 379.7,836.7 380.6,833.9 381.5,831.1 382.4,828.3 383.3,825.5 384.3,822.7 385.4,820.0 386.4,817.2 387.5,814.5 388.6,811.8 389.8,809.0 391.0,806.4 392.2,803.7 393.5,801.0 394.8,798.4 396.1,795.8 397.5,793.2 399.0,790.6 400.4,788.0 402.0,785.5 403.5,783.0 405.1,780.5 406.7,778.0 408.4,775.5 410.1,773.1 411.8,770.6 413.6,768.2 415.4,765.8 417.2,763.4 419.1,761.1 420.9,758.7 422.8,756.4 424.8,754.0 426.7,751.7 428.7,749.5 430.7,747.2 432.7,744.9 434.7,742.7 436.8,740.5 438.9,738.2 440.9,736.0 443.0,733.9 445.1,731.7 447.3,729.5 449.4,727.4 451.5,725.2 453.7,723.1 455.9,721.0 458.1,719.0 460.3,716.9 462.5,714.9 464.7,712.8 467.0,710.8 469.2,708.8 471.5,706.9 473.8,704.9 476.1,703.0 478.4,701.1 480.7,699.2 483.1,697.4 485.4,695.5 487.8,693.7 490.2,691.9 492.6,690.2 495.0,688.4 497.5,686.7 499.9,685.0 502.4,683.4 504.8,681.7 507.3,680.1 509.8,678.5 512.3,676.9 514.9,675.3 517.4,673.8 519.9,672.3 522.5,670.7 525.1,669.3 527.6,667.8 530.2,666.3 532.8,664.9 535.4,663.5 538.1,662.1 540.7,660.7 543.3,659.3 546.0,657.9 548.6,656.6 551.3,655.3 554.0,653.9 556.6,652.6 559.3,651.3 562.0,650.0 564.7,648.8 567.4,647.5 570.1,646.3 572.8,645.0 575.5,643.8 578.3,642.6 581.0,641.4 583.7,640.2 586.4,639.0 589.2,637.8 591.9,636.6 594.7,635.4 597.4,634.2 600.2,633.1 602.9,631.9 605.7,630.7 608.4,629.6 611.2,628.4 614.0,627.3 616.7,626.2 619.5,625.0 622.3,623.9 625.0,622.8 627.8,621.7 630.6,620.6 633.4,619.5 636.1,618.4 638.9,617.3 641.7,616.2 644.5,615.1 647.3,614.0 650.1,612.9 652.9,611.9 655.7,610.8 658.5,609.7 661.3,608.7 664.1,607.6 666.9,606.6 669.7,605.5 672.5,604.5 675.3,603.5 678.1,602.4 680.9,601.4 683.7,600.4 686.5,599.4 689.4,598.4 692.2,597.4 695.0,596.4 697.8,595.4 700.6,594.4 703.5,593.4 706.3,592.5 709.1,591.5 712.0,590.5 714.8,589.6 717.6,588.6 720.5,587.7 723.3,586.7 726.2,585.8 729.0,584.8 731.8,583.9 734.7,583.0 737.5,582.1 740.4,581.1 743.2,580.2 746.1,579.3 749.0,578.4 751.8,577.5 754.7,576.6 757.5,575.7 760.4,574.9 763.3,574.0 766.1,573.1 769.0,572.2 771.9,571.4 774.7,570.5 777.6,569.7 780.5,568.8 783.3,568.0 786.2,567.1 789.1,566.3 792.0,565.5 794.9,564.6 797.7,563.8 800.6,563.0 803.5,562.2 806.4,561.4 809.3,560.6 812.2,559.8 815.1,559.0 817.9,558.2 820.8,557.4 823.7,556.7 826.6,555.9 829.5,555.1 832.4,554.4 835.3,553.6 838.2,552.8 841.1,552.1 844.0,551.4 846.9,550.6 849.8,549.9 852.7,549.2 855.6,548.4 858.6,547.7 861.5,547.0 864.4,546.3 867.3,545.6 870.2,544.9 873.1,544.2 876.0,543.5 878.9,542.8 881.9,542.1 884.8,541.4 887.7,540.8 890.6,540.1 893.5,539.4 896.5,538.8 899.4,538.1 902.3,537.5 905.2,536.8 908.2,536.2 911.1,535.6 914.0,534.9 916.9,534.3 919.9,533.7 922.8,533.1 925.7,532.4 928.7,531.8 931.6,531.2 934.5,530.6 937.5,530.0 940.4,529.5 943.3,528.9 946.3,528.3 949.2,527.7 952.1,527.1 955.1,526.6 958.0,526.0 961.0,525.5 963.9,524.9 966.8,524.4 969.8,523.8 972.7,523.3 975.7,522.7 978.6,522.2 981.6,521.7 984.5,521.2 987.4,520.7 990.4,520.1 993.3,519.6 996.3,519.1 999.2,518.6 1002.2,518.1 1005.1,517.7 1008.1,517.2 1011.0,516.7 1014.0,516.2 1016.9,515.8 1019.9,515.3 1022.8,514.8 1025.8,514.4 1028.7,513.9 1031.7,513.5 1034.6,513.0 1037.6,512.6 1040.5,512.2 1043.5,511.7 1046.4,511.3 1049.4,510.9 1052.4,510.5 1055.3,510.0 1058.3,509.6 1061.2,509.2 1064.2,508.8 1067.1,508.4 1070.1,508.1 1073.0,507.7 1076.0,507.3 1079.0,506.9 1081.9,506.5 1084.9,506.2 1087.8,505.8 1090.8,505.4 1093.7,505.1 1096.7,504.7 1099.7,504.4 1102.6,504.1 1105.6,503.7 1108.5,503.4 1111.5,503.1 1114.4,502.7 1117.4,502.4 1120.4,502.1 1123.3,501.8 1126.3,501.5 1129.2,501.2 1132.2,500.9 1135.2,500.6 1138.1,500.3 1141.1,500.0 1144.0,499.7 1147.0,499.5 1150.0,499.2 1152.9,498.9 1155.9,498.6 1158.9,498.4 1161.8,498.1 1164.8,497.9 1167.8,497.6 1170.8,497.4 1173.7,497.1 1176.7,496.9 1179.7,496.6 1182.7,496.4 1185.6,496.2 1188.6,495.9 1191.6,495.7 1194.6,495.5 1197.6,495.3 1200.6,495.1 1203.6,494.9 1206.6,494.7 1209.6,494.5 1212.6,494.2 1215.6,494.1 1218.6,493.9 1221.6,493.7 1224.6,493.5 1227.6,493.3 1230.6,493.1 1233.7,492.9 1236.7,492.7 1239.7,492.6 1242.7,492.4 1245.8,492.2 1248.8,492.1 1251.9,491.9 1254.9,491.8 1257.9,491.6 1261.0,491.5 1264.0,491.3 1267.1,491.2 1270.1,491.1 1273.2,491.0 1276.2,490.9 1279.3,490.9 1282.3,490.8 1285.3,490.8 1288.4,490.8 1291.4,490.8 1294.4,490.8 1297.5,490.8 1300.5,490.9 1303.5,491.0 1306.5,491.1 1309.5,491.2 1312.5,491.4 1315.5,491.6 1318.5,491.8 1321.5,492.0 1324.5,492.3 1327.4,492.6 1330.4,493.0 1333.3,493.3 1336.3,493.8 1339.2,494.2 1342.1,494.7 1345.0,495.2 1347.9,495.7 1350.8,496.3 1353.7,497.0 1356.6,497.6 1359.4,498.4 1362.3,499.1 1365.1,499.9 1367.9,500.8 1370.7,501.7 1373.5,502.6 1376.3,503.6 1379.0,504.7 1381.7,505.8 1384.4,506.9 1387.1,508.1 1389.8,509.3 1392.4,510.6 1395.0,511.9 1397.6,513.3 1400.1,514.8 1402.7,516.3 1405.1,517.8 1407.6,519.4 1410.0,521.1 1412.3,522.8 1414.7,524.5 1416.9,526.3 1419.2,528.2 1421.4,530.1 1423.5,532.1 1425.6,534.1 1427.6,536.2 1429.6,538.3 1431.6,540.5 1433.5,542.7 1435.3,545.0 1437.1,547.3 1438.9,549.7 1440.6,552.1 1442.2,554.6 1443.9,557.1 1445.4,559.6 1447.0,562.1 1448.5,564.7 1450.0,567.4 1451.4,570.0 1452.8,572.7 1454.2,575.4 1455.5,578.1 1456.8,580.8 1458.1,583.6 1459.3,586.4 1460.5,589.2 1461.7,592.0 1462.9,594.8 1464.0,597.6 1465.1,600.4 1466.2,603.3 1467.3,606.1 1468.4,609.0 1469.4,611.9 1470.4,614.7 1471.4,617.6 1472.4,620.5 1473.4,623.4 1474.3,626.3 1475.3,629.2 1476.2,632.0 1477.1,634.9 1478.1,637.8 1479.0,640.7 1479.9,643.6 1480.8,646.5 1481.7,649.3 1482.6,652.2 1483.5,655.1 1484.4,657.9 1485.3,660.8 1486.2,663.6 1487.1,666.5 1488.0,669.3 1488.9,672.1 1489.9,674.9 1490.8,677.7 1491.7,680.5 1492.7,683.2 1493.6,686.0 1494.6,688.7 1495.6,691.4 1496.6,694.1 1497.7,696.8 1498.7,699.5 1499.8,702.1 1500.8,704.7" fill="none" stroke="#000" stroke-width="15.0" stroke-linecap="round" stroke-linejoin="round"/>
</g>
<line x1="321" y1="1571.5" x2="345.5" y2="1571.5" stroke="#111" stroke-width="4"/>
<line x1="332" y1="1491.6" x2="345.5" y2="1491.6" stroke="#111" stroke-width="4"/>
<line x1="332" y1="1411.6" x2="345.5" y2="1411.6" stroke="#111" stroke-width="4"/>
<line x1="332" y1="1331.7" x2="345.5" y2="1331.7" stroke="#111" stroke-width="4"/>
<line x1="321" y1="1251.7" x2="345.5" y2="1251.7" stroke="#111" stroke-width="4"/>
<line x1="332" y1="1171.8" x2="345.5" y2="1171.8" stroke="#111" stroke-width="4"/>
<line x1="332" y1="1091.8" x2="345.5" y2="1091.8" stroke="#111" stroke-width="4"/>
<line x1="332" y1="1011.9" x2="345.5" y2="1011.9" stroke="#111" stroke-width="4"/>
<line x1="321" y1="931.9" x2="345.5" y2="931.9" stroke="#111" stroke-width="4"/>
<line x1="332" y1="852.0" x2="345.5" y2="852.0" stroke="#111" stroke-width="4"/>
<line x1="332" y1="772.0" x2="345.5" y2="772.0" stroke="#111" stroke-width="4"/>
<line x1="332" y1="692.1" x2="345.5" y2="692.1" stroke="#111" stroke-width="4"/>
<line x1="321" y1="612.2" x2="345.5" y2="612.2" stroke="#111" stroke-width="4"/>
<line x1="332" y1="532.2" x2="345.5" y2="532.2" stroke="#111" stroke-width="4"/>
<line x1="332" y1="452.3" x2="345.5" y2="452.3" stroke="#111" stroke-width="4"/>
<line x1="332" y1="372.3" x2="345.5" y2="372.3" stroke="#111" stroke-width="4"/>
<line x1="321" y1="292.4" x2="345.5" y2="292.4" stroke="#111" stroke-width="4"/>
<line x1="332" y1="212.4" x2="345.5" y2="212.4" stroke="#111" stroke-width="4"/>
<line x1="332" y1="132.5" x2="345.5" y2="132.5" stroke="#111" stroke-width="4"/>
<line x1="345.7" y1="1571.5" x2="345.7" y2="1596.4" stroke="#000" stroke-width="3.2"/>
<line x1="388.4" y1="1571.5" x2="388.4" y2="1585.6" stroke="#000" stroke-width="3.2"/>
<line x1="431.1" y1="1571.5" x2="431.1" y2="1585.6" stroke="#000" stroke-width="3.2"/>
<line x1="473.9" y1="1571.5" x2="473.9" y2="1585.6" stroke="#000" stroke-width="3.2"/>
<line x1="516.6" y1="1571.5" x2="516.6" y2="1596.4" stroke="#000" stroke-width="3.2"/>
<line x1="559.3" y1="1571.5" x2="559.3" y2="1585.6" stroke="#000" stroke-width="3.2"/>
<line x1="602.0" y1="1571.5" x2="602.0" y2="1585.6" stroke="#000" stroke-width="3.2"/>
<line x1="644.7" y1="1571.5" x2="644.7" y2="1585.6" stroke="#000" stroke-width="3.2"/>
<line x1="687.5" y1="1571.5" x2="687.5" y2="1596.4" stroke="#000" stroke-width="3.2"/>
<line x1="730.2" y1="1571.5" x2="730.2" y2="1585.6" stroke="#000" stroke-width="3.2"/>
<line x1="772.9" y1="1571.5" x2="772.9" y2="1585.6" stroke="#000" stroke-width="3.2"/>
<line x1="815.6" y1="1571.5" x2="815.6" y2="1585.6" stroke="#000" stroke-width="3.2"/>
<line x1="858.3" y1="1571.5" x2="858.3" y2="1596.4" stroke="#000" stroke-width="3.2"/>
<line x1="901.0" y1="1571.5" x2="901.0" y2="1585.6" stroke="#000" stroke-width="3.2"/>
<line x1="943.8" y1="1571.5" x2="943.8" y2="1585.6" stroke="#000" stroke-width="3.2"/>
<line x1="986.5" y1="1571.5" x2="986.5" y2="1585.6" stroke="#000" stroke-width="3.2"/>
<line x1="1029.2" y1="1571.5" x2="1029.2" y2="1596.4" stroke="#000" stroke-width="3.2"/>
<line x1="1071.9" y1="1571.5" x2="1071.9" y2="1585.6" stroke="#000" stroke-width="3.2"/>
<line x1="1114.6" y1="1571.5" x2="1114.6" y2="1585.6" stroke="#000" stroke-width="3.2"/>
<line x1="1157.4" y1="1571.5" x2="1157.4" y2="1585.6" stroke="#000" stroke-width="3.2"/>
<line x1="1200.1" y1="1571.5" x2="1200.1" y2="1596.4" stroke="#000" stroke-width="3.2"/>
<line x1="1242.8" y1="1571.5" x2="1242.8" y2="1585.6" stroke="#000" stroke-width="3.2"/>
<line x1="1285.5" y1="1571.5" x2="1285.5" y2="1585.6" stroke="#000" stroke-width="3.2"/>
<line x1="1328.2" y1="1571.5" x2="1328.2" y2="1585.6" stroke="#000" stroke-width="3.2"/>
<line x1="1371.0" y1="1571.5" x2="1371.0" y2="1596.4" stroke="#000" stroke-width="3.2"/>
<line x1="1413.7" y1="1571.5" x2="1413.7" y2="1585.6" stroke="#000" stroke-width="3.2"/>
<line x1="1456.4" y1="1571.5" x2="1456.4" y2="1585.6" stroke="#000" stroke-width="3.2"/>
<line x1="1499.1" y1="1571.5" x2="1499.1" y2="1585.6" stroke="#000" stroke-width="3.2"/>
<line x1="1541.8" y1="1571.5" x2="1541.8" y2="1596.4" stroke="#000" stroke-width="3.2"/>
<line x1="1584.5" y1="1571.5" x2="1584.5" y2="1585.6" stroke="#000" stroke-width="3.2"/>
<line x1="1627.3" y1="1571.5" x2="1627.3" y2="1585.6" stroke="#000" stroke-width="3.2"/>
<line x1="1670.0" y1="1571.5" x2="1670.0" y2="1585.6" stroke="#000" stroke-width="3.2"/>
<line x1="1712.7" y1="1571.5" x2="1712.7" y2="1596.4" stroke="#000" stroke-width="3.2"/>
<line x1="330.0" y1="131.5" x2="1714.5" y2="131.5" stroke="#2a2a2a" stroke-width="4.5"/>
<line x1="1712.5" y1="129.5" x2="1712.5" y2="1573.5" stroke="#000" stroke-width="3.6"/>
<line x1="345.5" y1="129.5" x2="345.5" y2="1573.5" stroke="#000" stroke-width="4.4"/>
<line x1="321.0" y1="1571.5" x2="1714.5" y2="1571.5" stroke="#111" stroke-width="4.6"/>
<circle cx="1247.0" cy="487.5" r="22.5" fill="#fff" stroke="#000" stroke-width="3.0"/><path d="M1224.6,490.0 A22.5,22.5 0 1,1 1269.4,490.0 Z" fill="#000"/>
<circle cx="1258.0" cy="533.8" r="23.0" fill="url(#sph)"/>
<circle cx="1367.4" cy="548.3" r="24.0" fill="#ff0000"/>
<circle cx="1412.1" cy="584.7" r="21.5" fill="#fff" stroke="#0000ff" stroke-width="2.6"/>
<rect x="1104" y="56" width="592.5" height="395.5" fill="#000"/>
<rect x="1088.5" y="40.5" width="590" height="395" fill="#fff"/>
<line x1="1087.5" y1="40.5" x2="1679" y2="40.5" stroke="#8c8c8c" stroke-width="2.2"/>
<line x1="1088.7" y1="39.5" x2="1088.7" y2="436.5" stroke="#555" stroke-width="2.6"/>
<line x1="1087.5" y1="435.3" x2="1679" y2="435.3" stroke="#666" stroke-width="2.6"/>
<line x1="1678.3" y1="39.5" x2="1678.3" y2="436" stroke="#b8b8b8" stroke-width="1.6"/>
<line x1="1111" y1="96.5" x2="1172.5" y2="96.5" stroke="#000" stroke-width="14"/>
<circle cx="1111" cy="96.5" r="7" fill="#000"/>
<line x1="1226" y1="96.5" x2="1289" y2="96.5" stroke="#000" stroke-width="14"/>
<circle cx="1289" cy="96.5" r="7" fill="#000"/>
<circle cx="1200.0" cy="96.5" r="22.0" fill="#fff" stroke="#000" stroke-width="3.0"/><path d="M1178.1,99.0 A22.0,22.0 0 1,1 1221.9,99.0 Z" fill="#000"/>
<text x="1307" y="123.5" font-size="82">SMRT-25</text>
<line x1="1111" y1="194.0" x2="1172.5" y2="194.0" stroke="#800080" stroke-width="14"/>
<circle cx="1111" cy="194.0" r="7" fill="#800080"/>
<line x1="1226" y1="194.0" x2="1289" y2="194.0" stroke="#800080" stroke-width="14"/>
<circle cx="1289" cy="194.0" r="7" fill="#800080"/>
<circle cx="1200.5" cy="194.0" r="23.5" fill="url(#sph)"/>
<text x="1307" y="221.0" font-size="82">SMRT-100</text>
<line x1="1111" y1="291.5" x2="1172.5" y2="291.5" stroke="#ff0000" stroke-width="14"/>
<circle cx="1111" cy="291.5" r="7" fill="#ff0000"/>
<line x1="1226" y1="291.5" x2="1289" y2="291.5" stroke="#ff0000" stroke-width="14"/>
<circle cx="1289" cy="291.5" r="7" fill="#ff0000"/>
<circle cx="1200.5" cy="291.5" r="24.0" fill="#ff0000"/>
<text x="1307" y="318.5" font-size="82">SMRT-280</text>
<line x1="1111" y1="389.0" x2="1172.5" y2="389.0" stroke="#0000ff" stroke-width="14"/>
<circle cx="1111" cy="389.0" r="7" fill="#0000ff"/>
<line x1="1226" y1="389.0" x2="1289" y2="389.0" stroke="#0000ff" stroke-width="14"/>
<circle cx="1289" cy="389.0" r="7" fill="#0000ff"/>
<circle cx="1200.5" cy="389.0" r="22.0" fill="#fff" stroke="#0000ff" stroke-width="2.6"/>
<text x="1307" y="416.0" font-size="82">CG</text>
<line x1="1049.6" y1="1416.0" x2="1069.0" y2="1416.0" stroke="#000" stroke-width="2.8"/>
<line x1="1057.3" y1="1364.4" x2="1069.0" y2="1364.4" stroke="#000" stroke-width="2.8"/>
<line x1="1057.3" y1="1312.8" x2="1069.0" y2="1312.8" stroke="#000" stroke-width="2.8"/>
<line x1="1049.6" y1="1261.3" x2="1069.0" y2="1261.3" stroke="#000" stroke-width="2.8"/>
<line x1="1057.3" y1="1209.7" x2="1069.0" y2="1209.7" stroke="#000" stroke-width="2.8"/>
<line x1="1057.3" y1="1158.1" x2="1069.0" y2="1158.1" stroke="#000" stroke-width="2.8"/>
<line x1="1049.6" y1="1106.5" x2="1069.0" y2="1106.5" stroke="#000" stroke-width="2.8"/>
<line x1="1057.3" y1="1054.9" x2="1069.0" y2="1054.9" stroke="#000" stroke-width="2.8"/>
<line x1="1057.3" y1="1003.4" x2="1069.0" y2="1003.4" stroke="#000" stroke-width="2.8"/>
<line x1="1049.6" y1="951.8" x2="1069.0" y2="951.8" stroke="#000" stroke-width="2.8"/>
<line x1="1057.3" y1="900.2" x2="1069.0" y2="900.2" stroke="#000" stroke-width="2.8"/>
<line x1="1057.3" y1="848.6" x2="1069.0" y2="848.6" stroke="#000" stroke-width="2.8"/>
<line x1="1049.6" y1="797.0" x2="1069.0" y2="797.0" stroke="#000" stroke-width="2.8"/>
<line x1="1069.0" y1="1416.0" x2="1069.0" y2="1432.6" stroke="#000" stroke-width="2.8"/>
<line x1="1118.1" y1="1416.0" x2="1118.1" y2="1426.7" stroke="#000" stroke-width="2.8"/>
<line x1="1167.2" y1="1416.0" x2="1167.2" y2="1426.7" stroke="#000" stroke-width="2.8"/>
<line x1="1216.3" y1="1416.0" x2="1216.3" y2="1426.7" stroke="#000" stroke-width="2.8"/>
<line x1="1265.4" y1="1416.0" x2="1265.4" y2="1432.6" stroke="#000" stroke-width="2.8"/>
<line x1="1314.5" y1="1416.0" x2="1314.5" y2="1426.7" stroke="#000" stroke-width="2.8"/>
<line x1="1363.6" y1="1416.0" x2="1363.6" y2="1426.7" stroke="#000" stroke-width="2.8"/>
<line x1="1412.7" y1="1416.0" x2="1412.7" y2="1426.7" stroke="#000" stroke-width="2.8"/>
<line x1="1461.8" y1="1416.0" x2="1461.8" y2="1432.6" stroke="#000" stroke-width="2.8"/>
<line x1="1510.9" y1="1416.0" x2="1510.9" y2="1426.7" stroke="#000" stroke-width="2.8"/>
<line x1="1560.0" y1="1416.0" x2="1560.0" y2="1426.7" stroke="#000" stroke-width="2.8"/>
<line x1="1609.1" y1="1416.0" x2="1609.1" y2="1426.7" stroke="#000" stroke-width="2.8"/>
<line x1="1658.2" y1="1416.0" x2="1658.2" y2="1432.6" stroke="#000" stroke-width="2.8"/>
<rect x="1069.0" y="797.0" width="589.2" height="619.0" fill="none" stroke="#000" stroke-width="3"/>
<text x="1042" y="1432.2" font-size="59" font-weight="bold" text-anchor="end">0</text>
<text x="1042" y="1277.5" font-size="59" font-weight="bold" text-anchor="end">300</text>
<text x="1042" y="1122.7" font-size="59" font-weight="bold" text-anchor="end">600</text>
<text x="1042" y="968.0" font-size="59" font-weight="bold" text-anchor="end">900</text>
<text x="1042" y="813.2" font-size="59" font-weight="bold" text-anchor="end">1200</text>
<text x="1069.0" y="1489" font-size="59" font-weight="bold" text-anchor="middle">0</text>
<text x="1265.4" y="1489" font-size="59" font-weight="bold" text-anchor="middle">20</text>
<text x="1461.8" y="1489" font-size="59" font-weight="bold" text-anchor="middle">40</text>
<text x="1658.2" y="1489" font-size="59" font-weight="bold" text-anchor="middle">60</text>
<text x="1345" y="1547" font-size="57.7" font-weight="bold" text-anchor="middle">True strain (%)</text>
<text transform="translate(906.5,1078) rotate(-90)" x="0" y="0" font-size="57.5" font-weight="bold" text-anchor="middle">True stress (MPa)</text>
<clipPath id="insetclip"><rect x="1069" y="797" width="589.2" height="619"/></clipPath>
<g clip-path="url(#insetclip)">
<path d="M1070.1,1416.1L1070.1,1414.1 1070.1,1412.2 1070.1,1410.2 1070.1,1408.2 1070.1,1406.3 1070.1,1404.3 1070.1,1402.4 1070.1,1400.4 1070.1,1398.4 1070.1,1396.5 1070.1,1394.5 1070.2,1392.6 1070.2,1390.6 1070.2,1388.7 1070.2,1386.7 1070.3,1384.8 1070.3,1382.8 1070.3,1380.9 1070.4,1379.0 1070.4,1377.0 1070.5,1375.1 1070.5,1373.1 1070.6,1371.2 1070.6,1369.3 1070.7,1367.3 1070.7,1365.4 1070.8,1363.4 1070.9,1361.5 1070.9,1359.6 1071.0,1357.6 1071.0,1355.7 1071.1,1353.8 1071.2,1351.8 1071.2,1349.9 1071.3,1348.0 1071.4,1346.0 1071.4,1344.1 1071.5,1342.2 1071.6,1340.2 1071.6,1338.3 1071.7,1336.4 1071.8,1334.4 1071.9,1332.5 1071.9,1330.6 1072.0,1328.6 1072.1,1326.7 1072.1,1324.8 1072.2,1322.8 1072.3,1320.9 1072.3,1318.9 1072.4,1317.0 1072.5,1315.1 1072.5,1313.1 1072.6,1311.2 1072.6,1309.2 1072.7,1307.3 1072.8,1305.4 1072.8,1303.4 1072.9,1301.5 1072.9,1299.5 1073.0,1297.6 1073.1,1295.6 1073.1,1293.7 1073.2,1291.7 1073.2,1289.8 1073.3,1287.8 1073.4,1285.9 1073.4,1283.9 1073.5,1282.0 1073.5,1280.0 1073.6,1278.0 1073.7,1276.1 1073.7,1274.1 1073.8,1272.2 1073.8,1270.2 1073.9,1268.2 1074.0,1266.3 1074.0,1264.3 1074.1,1262.3 1074.2,1260.4 1074.3,1258.4 1074.3,1256.4 1074.4,1254.5 1074.5,1252.5 1074.6,1250.5 1074.7,1248.6 1074.8,1246.6 1075.0,1244.6 1075.1,1242.7 1075.2,1240.7 1075.4,1238.8 1075.5,1236.8 1075.7,1234.9 1075.9,1232.9 1076.1,1231.0 1076.3,1229.0 1076.5,1227.1 1076.8,1225.1 1077.0,1223.2 1077.3,1221.3 1077.5,1219.4 1077.8,1217.4 1078.2,1215.5 1078.5,1213.6 1078.8,1211.7 1079.2,1209.8 1079.6,1207.9 1080.0,1206.0 1080.4,1204.1 1080.8,1202.3 1081.3,1200.4 1081.8,1198.5 1082.3,1196.7 1082.8,1194.8 1083.3,1193.0 1083.9,1191.2 1084.5,1189.3 1085.1,1187.5 1085.7,1185.7 1086.4,1183.9 1087.1,1182.2 1087.8,1180.4 1088.5,1178.6 1089.2,1176.9 1090.0,1175.2 1090.8,1173.4 1091.7,1171.7 1092.5,1170.0 1093.4,1168.3 1094.3,1166.7 1095.2,1165.0 1096.2,1163.3 1097.2,1161.7 1098.2,1160.1 1099.2,1158.5 1100.2,1156.9 1101.3,1155.3 1102.4,1153.7 1103.5,1152.1 1104.6,1150.6 1105.7,1149.0 1106.9,1147.5 1108.1,1146.0 1109.3,1144.5 1110.5,1143.0 1111.7,1141.5 1112.9,1140.0 1114.2,1138.6 1115.5,1137.1 1116.7,1135.7 1118.0,1134.3 1119.4,1132.8 1120.7,1131.4 1122.0,1130.1 1123.4,1128.7 1124.7,1127.3 1126.1,1125.9 1127.5,1124.6 1128.9,1123.3 1130.3,1121.9 1131.7,1120.6 1133.1,1119.3 1134.5,1118.0 1136.0,1116.7 1137.4,1115.4 1138.9,1114.2 1140.3,1112.9 1141.8,1111.6 1143.3,1110.4 1144.8,1109.2 1146.3,1107.9 1147.8,1106.7 1149.3,1105.5 1150.9,1104.3 1152.4,1103.1 1153.9,1101.9 1155.5,1100.7 1157.0,1099.5 1158.6,1098.3 1160.1,1097.1 1161.7,1095.9 1163.3,1094.8 1164.8,1093.6 1166.4,1092.4 1168.0,1091.3 1169.6,1090.1 1171.2,1089.0 1172.8,1087.8 1174.4,1086.7 1176.0,1085.6 1177.6,1084.4 1179.2,1083.3 1180.8,1082.2 1182.4,1081.0 1184.0,1079.9 1185.6,1078.8 1187.2,1077.7 1188.8,1076.5 1190.4,1075.4 1192.0,1074.3 1193.6,1073.2 1195.2,1072.1 1196.9,1071.0 1198.5,1069.8 1200.1,1068.7 1201.7,1067.6 1203.3,1066.5 1204.9,1065.4 1206.5,1064.3 1208.1,1063.2 1209.7,1062.1 1211.4,1061.0 1213.0,1059.8 1214.6,1058.7 1216.2,1057.6 1217.8,1056.5 1219.4,1055.4 1221.0,1054.3 1222.6,1053.2 1224.3,1052.1 1225.9,1051.0 1227.5,1049.9 1229.1,1048.8 1230.7,1047.7 1232.3,1046.6 1233.9,1045.5 1235.6,1044.5 1237.2,1043.4 1238.8,1042.3 1240.4,1041.2 1242.0,1040.1 1243.6,1039.0 1245.2,1037.9 1246.9,1036.8 1248.5,1035.7 1250.1,1034.7 1251.7,1033.6 1253.3,1032.5 1254.9,1031.4 1256.6,1030.3 1258.2,1029.2 1259.8,1028.2 1261.4,1027.1 1263.0,1026.0 1264.7,1024.9 1266.3,1023.9 1267.9,1022.8 1269.5,1021.7 1271.1,1020.6 1272.8,1019.6 1274.4,1018.5 1276.0,1017.4 1277.6,1016.3 1279.2,1015.3 1280.9,1014.2 1282.5,1013.1 1284.1,1012.1 1285.7,1011.0 1287.4,1009.9 1289.0,1008.9 1290.6,1007.8 1292.2,1006.7 1293.9,1005.7 1295.5,1004.6 1297.1,1003.5 1298.7,1002.5 1300.4,1001.4 1302.0,1000.4 1303.6,999.3 1305.2,998.2 1306.9,997.2 1308.5,996.1 1310.1,995.1 1311.8,994.0 1313.4,993.0 1315.0,991.9 1316.6,990.8 1318.3,989.8 1319.9,988.7 1321.5,987.7 1323.2,986.6 1324.8,985.6 1326.4,984.5 1328.0,983.5 1329.7,982.4 1331.3,981.4 1332.9,980.3 1334.6,979.3 1336.2,978.2 1337.8,977.2 1339.5,976.2 1341.1,975.1 1342.7,974.1 1344.4,973.0 1346.0,972.0 1347.7,970.9 1349.3,969.9 1350.9,968.9 1352.6,967.8 1354.2,966.8 1355.8,965.7 1357.5,964.7 1359.1,963.7 1360.7,962.6 1362.4,961.6 1364.0,960.5 1365.7,959.5 1367.3,958.5 1368.9,957.4 1370.6,956.4 1372.2,955.4 1373.9,954.3 1375.5,953.3 1377.2,952.3 1378.8,951.2 1380.4,950.2 1382.1,949.2 1383.7,948.1 1385.4,947.1 1387.0,946.1 1388.7,945.0 1390.3,944.0 1392.0,943.0 1393.6,942.0 1395.2,940.9 1396.9,939.9 1398.5,938.9 1400.2,937.8 1401.8,936.8 1403.5,935.8 1405.1,934.8 1406.8,933.7 1408.4,932.7 1410.1,931.7 1411.7,930.7 1413.4,929.6 1415.0,928.6 1416.7,927.6 1418.3,926.6 1420.0,925.5 1421.6,924.5 1423.3,923.5 1425.0,922.5 1426.6,921.5 1428.3,920.4 1429.9,919.4 1431.6,918.4 1433.2,917.4 1434.9,916.4 1436.5,915.3 1438.2,914.3 1439.9,913.3 1441.5,912.3 1443.2,911.3 1444.8,910.2 1446.5,909.2 1448.2,908.2 1449.8,907.2 1451.5,906.2 1453.1,905.1 1454.8,904.1 1456.5,903.1 1458.1,902.1 1459.8,901.1 1461.5,900.1 1463.1,899.1 1464.8,898.0 1466.4,897.0 1468.1,896.0 1469.8,895.0 1471.4,894.0 1473.1,893.0 1474.8,891.9 1476.4,890.9 1478.1,889.9 1479.8,888.9 1481.5,887.9 1483.1,886.9 1484.8,885.9 1486.5,884.8 1488.1,883.8 1489.8,882.8 1491.5,881.8 1493.2,880.8 1494.8,879.8 1496.5,878.8 1498.2,877.8 1499.9,876.7 1501.5,875.7 1503.2,874.7 1504.9,873.7 1506.6,872.7 1508.2,871.7 1509.9,870.7 1511.6,869.7 1513.3,868.6 1515.0,867.6 1516.6,866.6 1518.3,865.6" fill="none" stroke="#0000ff" stroke-width="5.5" stroke-linecap="round" stroke-linejoin="round"/>
<path d="M1070.1,1416.0L1070.1,1414.1 1070.2,1412.2 1070.2,1410.3 1070.2,1408.4 1070.3,1406.4 1070.3,1404.5 1070.3,1402.6 1070.3,1400.6 1070.4,1398.7 1070.4,1396.8 1070.4,1394.8 1070.4,1392.9 1070.4,1390.9 1070.5,1389.0 1070.5,1387.1 1070.5,1385.1 1070.5,1383.2 1070.6,1381.2 1070.6,1379.3 1070.7,1377.4 1070.7,1375.5 1070.8,1373.5 1070.8,1371.6 1070.9,1369.7 1071.0,1367.8 1071.1,1365.9 1071.2,1364.0 1071.3,1362.1 1071.4,1360.2 1071.5,1358.3 1071.7,1356.4 1071.8,1354.5 1071.9,1352.6 1072.1,1350.7 1072.2,1348.8 1072.4,1346.9 1072.5,1345.0 1072.7,1343.1 1072.8,1341.2 1073.0,1339.3 1073.1,1337.4 1073.3,1335.5 1073.4,1333.6 1073.5,1331.7 1073.7,1329.8 1073.8,1327.9 1073.9,1325.9 1074.0,1324.0 1074.1,1322.1 1074.2,1320.1 1074.3,1318.2 1074.3,1316.2 1074.4,1314.2 1074.4,1312.2 1074.5,1310.3 1074.5,1308.3 1074.6,1306.3 1074.6,1304.3 1074.7,1302.3 1074.8,1300.3 1074.8,1298.3 1074.9,1296.4 1075.1,1294.4 1075.2,1292.4 1075.4,1290.5 1075.5,1288.5 1075.8,1286.6 1076.0,1284.7 1076.3,1282.7 1076.6,1280.8 1077.0,1279.0 1077.4,1277.1 1077.8,1275.3 1078.3,1273.4 1078.9,1271.6 1079.5,1269.9 1080.1,1268.1 1080.8,1266.4 1081.6,1264.7 1082.4,1263.0 1083.2,1261.3 1084.1,1259.7 1085.0,1258.0 1086.0,1256.4 1087.0,1254.8 1088.0,1253.2 1089.1,1251.7 1090.2,1250.1 1091.3,1248.6 1092.4,1247.0 1093.6,1245.5 1094.8,1244.0 1096.0,1242.5 1097.2,1241.1 1098.5,1239.6 1099.7,1238.1 1101.0,1236.7 1102.2,1235.2 1103.5,1233.8 1104.8,1232.3 1106.1,1230.9 1107.4,1229.5 1108.7,1228.0 1110.0,1226.6 1111.3,1225.2 1112.6,1223.8 1113.9,1222.4 1115.2,1221.0 1116.5,1219.6 1117.9,1218.3 1119.2,1216.9 1120.6,1215.5 1121.9,1214.1 1123.3,1212.8 1124.6,1211.4 1126.0,1210.1 1127.3,1208.7 1128.7,1207.4 1130.1,1206.1 1131.5,1204.7 1132.9,1203.4 1134.2,1202.1 1135.6,1200.8 1137.0,1199.4 1138.4,1198.1 1139.8,1196.8 1141.3,1195.5 1142.7,1194.2 1144.1,1193.0 1145.5,1191.7 1146.9,1190.4 1148.4,1189.1 1149.8,1187.8 1151.2,1186.6 1152.7,1185.3 1154.1,1184.0 1155.6,1182.8 1157.0,1181.5 1158.5,1180.3 1159.9,1179.0 1161.4,1177.8 1162.9,1176.5 1164.3,1175.3 1165.8,1174.0 1167.3,1172.8 1168.7,1171.6 1170.2,1170.4 1171.7,1169.1 1173.2,1167.9 1174.7,1166.7 1176.2,1165.5 1177.6,1164.3 1179.1,1163.1 1180.6,1161.8 1182.1,1160.6 1183.6,1159.4 1185.1,1158.2 1186.7,1157.0 1188.2,1155.8 1189.7,1154.7 1191.2,1153.5 1192.7,1152.3 1194.2,1151.1 1195.7,1149.9 1197.2,1148.7 1198.8,1147.5 1200.3,1146.4 1201.8,1145.2 1203.3,1144.0 1204.9,1142.8 1206.4,1141.7 1207.9,1140.5 1209.5,1139.3 1211.0,1138.1 1212.5,1137.0 1214.1,1135.8 1215.6,1134.6 1217.1,1133.5 1218.7,1132.3 1220.2,1131.1 1221.7,1130.0 1223.3,1128.8 1224.8,1127.7 1226.4,1126.5 1227.9,1125.3 1229.5,1124.2 1231.0,1123.0 1232.5,1121.9 1234.1,1120.7 1235.6,1119.6 1237.2,1118.4 1238.7,1117.2 1240.3,1116.1 1241.8,1114.9 1243.3,1113.8 1244.9,1112.6 1246.4,1111.5 1248.0,1110.3 1249.5,1109.1 1251.1,1108.0 1252.6,1106.8 1254.1,1105.7 1255.7,1104.5 1257.2,1103.3 1258.8,1102.2 1260.3,1101.0 1261.8,1099.9 1263.4,1098.7 1264.9,1097.6 1266.5,1096.4 1268.0,1095.2 1269.5,1094.1 1271.1,1092.9 1272.6,1091.7 1274.2,1090.6 1275.7,1089.4 1277.2,1088.3 1278.8,1087.1 1280.3,1085.9 1281.9,1084.8 1283.4,1083.6 1284.9,1082.5 1286.5,1081.3 1288.0,1080.1 1289.5,1079.0 1291.1,1077.8 1292.6,1076.7 1294.2,1075.5 1295.7,1074.3 1297.2,1073.2 1298.8,1072.0 1300.3,1070.9 1301.8,1069.7 1303.4,1068.5 1304.9,1067.4 1306.5,1066.2 1308.0,1065.1 1309.5,1063.9 1311.1,1062.7 1312.6,1061.6 1314.1,1060.4 1315.7,1059.3 1317.2,1058.1 1318.8,1056.9 1320.3,1055.8 1321.8,1054.6 1323.4,1053.5 1324.9,1052.3 1326.5,1051.1 1328.0,1050.0 1329.5,1048.8 1331.1,1047.7 1332.6,1046.5 1334.1,1045.4 1335.7,1044.2 1337.2,1043.1 1338.8,1041.9 1340.3,1040.7 1341.8,1039.6 1343.4,1038.4 1344.9,1037.3 1346.5,1036.1 1348.0,1035.0 1349.6,1033.8 1351.1,1032.7 1352.6,1031.5 1354.2,1030.4 1355.7,1029.2 1357.3,1028.1 1358.8,1026.9 1360.4,1025.8 1361.9,1024.6 1363.4,1023.5 1365.0,1022.3 1366.5,1021.2 1368.1,1020.0 1369.6,1018.9 1371.2,1017.8 1372.7,1016.6 1374.3,1015.5 1375.8,1014.3 1377.4,1013.2 1378.9,1012.0 1380.5,1010.9 1382.0,1009.8 1383.6,1008.6 1385.1,1007.5 1386.7,1006.4 1388.2,1005.2 1389.8,1004.1 1391.3,1002.9 1392.9,1001.8 1394.4,1000.7 1396.0,999.5 1397.5,998.4 1399.1,997.3 1400.6,996.1 1402.2,995.0 1403.8,993.9 1405.3,992.8 1406.9,991.6 1408.4,990.5 1410.0,989.4 1411.5,988.3 1413.1,987.1 1414.7,986.0 1416.2,984.9 1417.8,983.8 1419.4,982.7 1420.9,981.5 1422.5,980.4 1424.0,979.3 1425.6,978.2 1427.2,977.1 1428.7,976.0 1430.3,974.8 1431.9,973.7 1433.5,972.6 1435.0,971.5 1436.6,970.4 1438.2,969.3 1439.7,968.2 1441.3,967.1 1442.9,966.0 1444.5,964.9 1446.0,963.8 1447.6,962.7 1449.2,961.6 1450.8,960.5 1452.3,959.4 1453.9,958.3 1455.5,957.2 1457.1,956.1 1458.7,955.0 1460.3,953.9 1461.8,952.8 1463.4,951.7 1465.0,950.6 1466.6,949.6 1468.2,948.5 1469.8,947.4 1471.4,946.3 1473.0,945.2 1474.5,944.2 1476.1,943.1 1477.7,942.0 1479.3,940.9 1480.9,939.8 1482.5,938.8 1484.1,937.7 1485.7,936.6 1487.3,935.6 1488.9,934.5 1490.5,933.4 1492.1,932.4 1493.7,931.3 1495.3,930.2 1496.9,929.2 1498.5,928.1 1500.2,927.1 1501.8,926.0 1503.4,925.0 1505.0,923.9 1506.6,922.9 1508.2,921.8 1509.8,920.8 1511.4,919.7 1513.1,918.7 1514.7,917.6 1516.3,916.6 1517.9,915.6 1519.5,914.5 1521.2,913.5 1522.8,912.5 1524.4,911.4 1526.0,910.4 1527.7,909.4 1529.3,908.3 1530.9,907.3 1532.6,906.3 1534.2,905.3 1535.8,904.3 1537.5,903.2 1539.1,902.2 1540.8,901.2 1542.4,900.2 1544.0,899.2 1545.7,898.2 1547.3,897.2 1549.0,896.2 1550.6,895.2 1552.3,894.2 1553.9,893.2 1555.6,892.2 1557.2,891.2 1558.9,890.2 1560.5,889.2 1562.2,888.2 1563.8,887.2" fill="none" stroke="#0000ff" stroke-width="5.5" stroke-linecap="round" stroke-linejoin="round"/>
<path d="M1070.4,1416.2L1070.4,1414.2 1070.3,1412.2 1070.3,1410.1 1070.3,1408.1 1070.3,1406.1 1070.2,1404.1 1070.2,1402.1 1070.2,1400.1 1070.3,1398.1 1070.3,1396.1 1070.3,1394.1 1070.3,1392.1 1070.3,1390.1 1070.4,1388.1 1070.4,1386.1 1070.4,1384.1 1070.5,1382.1 1070.5,1380.2 1070.6,1378.2 1070.6,1376.2 1070.7,1374.2 1070.8,1372.2 1070.8,1370.3 1070.9,1368.3 1071.0,1366.3 1071.1,1364.3 1071.2,1362.4 1071.3,1360.4 1071.4,1358.4 1071.4,1356.4 1071.5,1354.5 1071.6,1352.5 1071.8,1350.5 1071.9,1348.6 1072.0,1346.6 1072.1,1344.6 1072.2,1342.7 1072.3,1340.7 1072.4,1338.7 1072.6,1336.8 1072.7,1334.8 1072.8,1332.8 1072.9,1330.9 1073.1,1328.9 1073.2,1327.0 1073.3,1325.0 1073.5,1323.0 1073.6,1321.1 1073.7,1319.1 1073.9,1317.1 1074.0,1315.2 1074.1,1313.2 1074.3,1311.2 1074.4,1309.3 1074.6,1307.3 1074.7,1305.3 1074.8,1303.3 1075.0,1301.4 1075.1,1299.4 1075.3,1297.4 1075.4,1295.4 1075.5,1293.5 1075.7,1291.5 1075.8,1289.5 1076.0,1287.5 1076.1,1285.5 1076.3,1283.5 1076.4,1281.5 1076.5,1279.5 1076.7,1277.5 1076.8,1275.5 1077.0,1273.5 1077.1,1271.5 1077.2,1269.5 1077.4,1267.4 1077.5,1265.4 1077.7,1263.4 1077.8,1261.3 1077.9,1259.3 1078.1,1257.2 1078.2,1255.2 1078.4,1253.2 1078.6,1251.1 1078.7,1249.1 1078.9,1247.1 1079.1,1245.0 1079.3,1243.0 1079.6,1241.0 1079.8,1239.0 1080.1,1237.0 1080.4,1235.0 1080.7,1233.0 1081.1,1231.0 1081.5,1229.1 1081.9,1227.1 1082.3,1225.2 1082.8,1223.3 1083.3,1221.4 1083.8,1219.5 1084.4,1217.7 1085.0,1215.8 1085.6,1214.0 1086.3,1212.2 1087.0,1210.4 1087.7,1208.7 1088.5,1206.9 1089.3,1205.2 1090.2,1203.5 1091.1,1201.8 1092.0,1200.1 1092.9,1198.4 1093.9,1196.8 1094.9,1195.1 1095.9,1193.5 1096.9,1191.9 1098.0,1190.3 1099.1,1188.7 1100.2,1187.2 1101.4,1185.6 1102.6,1184.1 1103.8,1182.6 1105.0,1181.1 1106.2,1179.6 1107.5,1178.1 1108.7,1176.6 1110.0,1175.2 1111.4,1173.7 1112.7,1172.3 1114.1,1170.9 1115.4,1169.4 1116.8,1168.0 1118.2,1166.6 1119.6,1165.3 1121.0,1163.9 1122.5,1162.5 1123.9,1161.2 1125.4,1159.8 1126.9,1158.5 1128.4,1157.2 1129.9,1155.8 1131.4,1154.5 1132.9,1153.2 1134.4,1151.9 1135.9,1150.6 1137.5,1149.3 1139.0,1148.1 1140.5,1146.8 1142.1,1145.5 1143.6,1144.3 1145.2,1143.0 1146.8,1141.8 1148.3,1140.5 1149.9,1139.3 1151.4,1138.1 1153.0,1136.8 1154.6,1135.6 1156.2,1134.4 1157.7,1133.2 1159.3,1132.0 1160.9,1130.8 1162.5,1129.6 1164.1,1128.4 1165.7,1127.2 1167.3,1126.0 1168.9,1124.8 1170.5,1123.6 1172.1,1122.5 1173.7,1121.3 1175.3,1120.1 1176.9,1119.0 1178.5,1117.8 1180.2,1116.7 1181.8,1115.5 1183.4,1114.4 1185.0,1113.2 1186.6,1112.1 1188.3,1110.9 1189.9,1109.8 1191.5,1108.7 1193.2,1107.5 1194.8,1106.4 1196.4,1105.3 1198.1,1104.1 1199.7,1103.0 1201.3,1101.9 1203.0,1100.8 1204.6,1099.7 1206.3,1098.6 1207.9,1097.4 1209.6,1096.3 1211.2,1095.2 1212.8,1094.1 1214.5,1093.0 1216.1,1091.9 1217.8,1090.8 1219.4,1089.7 1221.1,1088.6 1222.7,1087.5 1224.4,1086.4 1226.0,1085.3 1227.7,1084.2 1229.3,1083.1 1231.0,1082.0 1232.6,1080.9 1234.3,1079.8 1235.9,1078.7 1237.6,1077.6 1239.2,1076.5 1240.9,1075.4 1242.5,1074.3 1244.2,1073.2 1245.8,1072.1 1247.5,1071.0 1249.2,1069.9 1250.8,1068.8 1252.5,1067.7 1254.1,1066.6 1255.8,1065.5 1257.4,1064.4 1259.1,1063.3 1260.7,1062.2 1262.4,1061.2 1264.0,1060.1 1265.7,1059.0 1267.4,1057.9 1269.0,1056.8 1270.7,1055.7 1272.3,1054.6 1274.0,1053.5 1275.6,1052.4 1277.3,1051.3 1279.0,1050.2 1280.6,1049.1 1282.3,1048.1 1283.9,1047.0 1285.6,1045.9 1287.2,1044.8 1288.9,1043.7 1290.5,1042.6 1292.2,1041.5 1293.9,1040.4 1295.5,1039.3 1297.2,1038.2 1298.8,1037.2 1300.5,1036.1 1302.1,1035.0 1303.8,1033.9 1305.4,1032.8 1307.1,1031.7 1308.8,1030.6 1310.4,1029.5 1312.1,1028.4 1313.7,1027.3 1315.4,1026.3 1317.0,1025.2 1318.7,1024.1 1320.3,1023.0 1322.0,1021.9 1323.7,1020.8 1325.3,1019.7 1327.0,1018.6 1328.6,1017.5 1330.3,1016.4 1331.9,1015.3 1333.6,1014.2 1335.2,1013.1 1336.9,1012.0 1338.5,1010.9 1340.2,1009.8 1341.8,1008.7 1343.5,1007.6 1345.1,1006.5 1346.8,1005.4 1348.4,1004.3 1350.1,1003.2 1351.7,1002.1 1353.4,1001.0 1355.0,999.9 1356.7,998.8 1358.3,997.7 1360.0,996.6 1361.6,995.5 1363.3,994.4 1364.9,993.3 1366.6,992.2 1368.2,991.1 1369.9,990.0 1371.5,988.9 1373.2,987.8 1374.8,986.7 1376.4,985.5 1378.1,984.4 1379.7,983.3 1381.4,982.2 1383.0,981.1 1384.7,980.0 1386.3,978.9 1387.9,977.7 1389.6,976.6 1391.2,975.5 1392.8,974.4 1394.5,973.3 1396.1,972.1 1397.8,971.0 1399.4,969.9 1401.0,968.8 1402.7,967.7 1404.3,966.5 1405.9,965.4 1407.6,964.3 1409.2,963.2 1410.9,962.0 1412.5,960.9 1414.1,959.8 1415.8,958.7 1417.4,957.5 1419.0,956.4 1420.7,955.3 1422.3,954.2 1424.0,953.1 1425.6,951.9 1427.2,950.8 1428.9,949.7 1430.5,948.6 1432.2,947.5 1433.8,946.4 1435.5,945.3 1437.1,944.2 1438.7,943.0 1440.4,941.9 1442.0,940.8 1443.7,939.7 1445.3,938.6 1447.0,937.5 1448.6,936.4 1450.3,935.3 1452.0,934.3 1453.6,933.2 1455.3,932.1 1456.9,931.0 1458.6,929.9 1460.3,928.8 1461.9,927.8 1463.6,926.7 1465.3,925.6 1466.9,924.6 1468.6,923.5 1470.3,922.4 1472.0,921.4 1473.6,920.3 1475.3,919.3 1477.0,918.2 1478.7,917.2 1480.4,916.1 1482.1,915.1 1483.7,914.1 1485.4,913.1 1487.1,912.0 1488.8,911.0 1490.5,910.0 1492.2,909.0 1493.9,908.0 1495.7,907.0 1497.4,906.0 1499.1,905.0 1500.8,904.0 1502.5,903.0 1504.2,902.0 1506.0,901.1 1507.7,900.1 1509.4,899.1 1511.2,898.2 1512.9,897.2 1514.6,896.3 1516.4,895.4 1518.1,894.4 1519.9,893.5 1521.7,892.6 1523.4,891.7 1525.2,890.8 1526.9,889.8 1528.7,889.0 1530.5,888.1 1532.3,887.2 1534.0,886.3 1535.8,885.4 1537.6,884.6 1539.4,883.7 1541.2,882.9 1543.0,882.0 1544.8,881.2 1546.6,880.3 1548.4,879.5 1550.3,878.7 1552.1,877.9 1553.9,877.1 1555.7,876.3 1557.6,875.5 1559.4,874.7" fill="none" stroke="#ff0000" stroke-width="5.5" stroke-linecap="round" stroke-linejoin="round"/>
<path d="M1070.3,1416.1L1070.2,1414.1 1070.2,1412.2 1070.2,1410.3 1070.2,1408.3 1070.1,1406.4 1070.1,1404.5 1070.1,1402.5 1070.1,1400.6 1070.1,1398.7 1070.1,1396.8 1070.1,1394.8 1070.1,1392.9 1070.1,1391.0 1070.2,1389.1 1070.2,1387.1 1070.2,1385.2 1070.3,1383.3 1070.3,1381.4 1070.3,1379.4 1070.4,1377.5 1070.4,1375.6 1070.5,1373.7 1070.5,1371.8 1070.6,1369.9 1070.6,1367.9 1070.7,1366.0 1070.7,1364.1 1070.8,1362.2 1070.8,1360.3 1070.9,1358.4 1071.0,1356.4 1071.0,1354.5 1071.1,1352.6 1071.2,1350.7 1071.2,1348.8 1071.3,1346.9 1071.4,1345.0 1071.4,1343.0 1071.5,1341.1 1071.6,1339.2 1071.6,1337.3 1071.7,1335.4 1071.8,1333.5 1071.8,1331.5 1071.9,1329.6 1072.0,1327.7 1072.0,1325.8 1072.1,1323.9 1072.2,1322.0 1072.2,1320.0 1072.3,1318.1 1072.4,1316.2 1072.4,1314.3 1072.5,1312.4 1072.5,1310.4 1072.6,1308.5 1072.6,1306.6 1072.7,1304.7 1072.8,1302.8 1072.8,1300.8 1072.9,1298.9 1072.9,1297.0 1073.0,1295.1 1073.1,1293.1 1073.1,1291.2 1073.2,1289.3 1073.2,1287.4 1073.3,1285.4 1073.4,1283.5 1073.4,1281.6 1073.5,1279.7 1073.6,1277.7 1073.7,1275.8 1073.8,1273.9 1073.8,1272.0 1073.9,1270.0 1074.0,1268.1 1074.1,1266.2 1074.2,1264.3 1074.3,1262.3 1074.4,1260.4 1074.5,1258.5 1074.7,1256.6 1074.8,1254.6 1074.9,1252.7 1075.0,1250.8 1075.2,1248.9 1075.3,1247.0 1075.4,1245.0 1075.6,1243.1 1075.8,1241.2 1075.9,1239.3 1076.1,1237.3 1076.3,1235.4 1076.5,1233.5 1076.6,1231.6 1076.8,1229.7 1077.0,1227.7 1077.3,1225.8 1077.5,1223.9 1077.7,1222.0 1077.9,1220.1 1078.2,1218.2 1078.5,1216.3 1078.7,1214.4 1079.0,1212.4 1079.3,1210.6 1079.7,1208.7 1080.0,1206.8 1080.4,1204.9 1080.8,1203.0 1081.2,1201.2 1081.6,1199.3 1082.0,1197.4 1082.5,1195.6 1083.0,1193.8 1083.5,1191.9 1084.1,1190.1 1084.6,1188.3 1085.2,1186.5 1085.9,1184.8 1086.5,1183.0 1087.2,1181.2 1087.9,1179.5 1088.7,1177.7 1089.5,1176.0 1090.3,1174.3 1091.2,1172.6 1092.0,1170.9 1092.9,1169.3 1093.9,1167.6 1094.8,1166.0 1095.8,1164.3 1096.8,1162.7 1097.9,1161.1 1098.9,1159.5 1100.0,1158.0 1101.1,1156.4 1102.2,1154.9 1103.3,1153.3 1104.5,1151.8 1105.7,1150.3 1106.9,1148.8 1108.1,1147.3 1109.3,1145.8 1110.6,1144.4 1111.8,1143.0 1113.1,1141.5 1114.4,1140.1 1115.7,1138.7 1117.0,1137.3 1118.3,1136.0 1119.6,1134.6 1121.0,1133.3 1122.3,1131.9 1123.7,1130.6 1125.1,1129.3 1126.5,1128.0 1127.9,1126.7 1129.3,1125.4 1130.7,1124.2 1132.2,1122.9 1133.6,1121.7 1135.1,1120.4 1136.5,1119.2 1138.0,1118.0 1139.5,1116.8 1141.0,1115.6 1142.5,1114.4 1144.0,1113.2 1145.5,1112.0 1147.0,1110.8 1148.5,1109.7 1150.0,1108.5 1151.6,1107.4 1153.1,1106.2 1154.7,1105.1 1156.2,1104.0 1157.8,1102.9 1159.4,1101.7 1160.9,1100.6 1162.5,1099.5 1164.1,1098.4 1165.7,1097.3 1167.3,1096.2 1168.9,1095.1 1170.4,1094.1 1172.0,1093.0 1173.6,1091.9 1175.2,1090.8 1176.9,1089.8 1178.5,1088.7 1180.1,1087.6 1181.7,1086.6 1183.3,1085.5 1184.9,1084.4 1186.5,1083.4 1188.1,1082.3 1189.7,1081.2 1191.4,1080.2 1193.0,1079.1 1194.6,1078.1 1196.2,1077.0 1197.8,1076.0 1199.4,1074.9 1201.1,1073.9 1202.7,1072.8 1204.3,1071.7 1205.9,1070.7 1207.5,1069.6 1209.1,1068.6 1210.8,1067.5 1212.4,1066.5 1214.0,1065.4 1215.6,1064.4 1217.2,1063.4 1218.8,1062.3 1220.5,1061.3 1222.1,1060.2 1223.7,1059.2 1225.3,1058.1 1226.9,1057.1 1228.6,1056.1 1230.2,1055.0 1231.8,1054.0 1233.4,1052.9 1235.0,1051.9 1236.7,1050.9 1238.3,1049.8 1239.9,1048.8 1241.5,1047.8 1243.2,1046.7 1244.8,1045.7 1246.4,1044.7 1248.0,1043.6 1249.6,1042.6 1251.3,1041.6 1252.9,1040.5 1254.5,1039.5 1256.1,1038.5 1257.8,1037.4 1259.4,1036.4 1261.0,1035.4 1262.7,1034.4 1264.3,1033.4 1265.9,1032.3 1267.5,1031.3 1269.2,1030.3 1270.8,1029.3 1272.4,1028.3 1274.1,1027.2 1275.7,1026.2 1277.3,1025.2 1279.0,1024.2 1280.6,1023.2 1282.2,1022.2 1283.8,1021.1 1285.5,1020.1 1287.1,1019.1 1288.7,1018.1 1290.4,1017.1 1292.0,1016.1 1293.7,1015.1 1295.3,1014.1 1296.9,1013.1 1298.6,1012.1 1300.2,1011.1 1301.8,1010.1 1303.5,1009.1 1305.1,1008.1 1306.7,1007.1 1308.4,1006.1 1310.0,1005.1 1311.7,1004.1 1313.3,1003.1 1314.9,1002.1 1316.6,1001.1 1318.2,1000.1 1319.9,999.1 1321.5,998.1 1323.2,997.1 1324.8,996.1 1326.4,995.1 1328.1,994.2 1329.7,993.2 1331.4,992.2 1333.0,991.2 1334.7,990.2 1336.3,989.2 1338.0,988.3 1339.6,987.3 1341.3,986.3 1342.9,985.3 1344.6,984.3 1346.2,983.4 1347.9,982.4 1349.5,981.4 1351.2,980.4 1352.8,979.5 1354.5,978.5 1356.1,977.5 1357.8,976.6 1359.5,975.6 1361.1,974.6 1362.8,973.7 1364.4,972.7 1366.1,971.7 1367.7,970.8 1369.4,969.8 1371.1,968.8 1372.7,967.9 1374.4,966.9 1376.0,966.0 1377.7,965.0 1379.4,964.0 1381.0,963.1 1382.7,962.1 1384.4,961.2 1386.0,960.2 1387.7,959.3 1389.4,958.3 1391.0,957.4 1392.7,956.4 1394.4,955.5 1396.0,954.6 1397.7,953.6 1399.4,952.7 1401.0,951.7 1402.7,950.8 1404.4,949.8 1406.1,948.9 1407.7,948.0 1409.4,947.0 1411.1,946.1 1412.7,945.2 1414.4,944.2 1416.1,943.3 1417.8,942.4 1419.5,941.4 1421.1,940.5 1422.8,939.6 1424.5,938.7 1426.2,937.7 1427.9,936.8 1429.5,935.9 1431.2,935.0 1432.9,934.0 1434.6,933.1 1436.3,932.2 1438.0,931.3 1439.7,930.4 1441.3,929.5 1443.0,928.5 1444.7,927.6 1446.4,926.7 1448.1,925.8 1449.8,924.9 1451.5,924.0 1453.2,923.1 1454.9,922.2 1456.6,921.3 1458.3,920.4 1460.0,919.5 1461.7,918.6 1463.4,917.7 1465.1,916.8 1466.8,915.9 1468.5,915.0 1470.2,914.1 1471.9,913.2 1473.6,912.3 1475.3,911.4 1477.0,910.5 1478.7,909.6 1480.4,908.7 1482.1,907.9 1483.8,907.0 1485.5,906.1 1487.2,905.2 1488.9,904.3 1490.6,903.5 1492.3,902.6 1494.1,901.7 1495.8,900.8 1497.5,899.9 1499.2,899.1 1500.9,898.2 1502.6,897.3 1504.4,896.5 1506.1,895.6 1507.8,894.7 1509.5,893.9 1511.2,893.0 1513.0,892.1 1514.7,891.3 1516.4,890.4 1518.1,889.6 1519.9,888.7 1521.6,887.8" fill="none" stroke="#800080" stroke-width="5.5" stroke-linecap="round" stroke-linejoin="round"/>
</g>
<circle cx="1531.9" cy="862.2" r="11.5" fill="#fff" stroke="#000" stroke-width="2.0"/><path d="M1520.4,862.5 A11.5,11.5 0 1,1 1543.4,862.5 Z" fill="#000"/>
<circle cx="1522.4" cy="890.1" r="12.5" fill="url(#sph)"/>
<circle cx="1559.2" cy="874.5" r="13.0" fill="#ff0000"/>
<circle cx="1578.0" cy="885.6" r="11.5" fill="#fff" stroke="#222" stroke-width="2.0"/>
</svg></body></html>
